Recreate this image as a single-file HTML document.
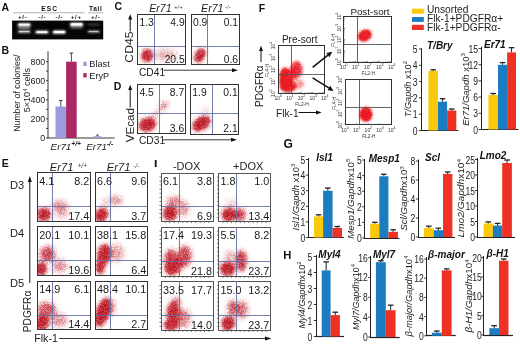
<!DOCTYPE html><html><head><meta charset="utf-8"><style>html,body{margin:0;padding:0;background:#fff;width:520px;height:345px;overflow:hidden}svg{display:block;will-change:transform}text{font-family:"Liberation Sans", sans-serif}</style></head><body><svg width="520" height="345" viewBox="0 0 520 345"><text x="1.6" y="10.6" font-size="10.5" text-anchor="start" font-weight="bold" font-style="normal" fill="#111" >A</text><text x="49.6" y="10.5" font-size="6.6" text-anchor="middle" font-weight="bold" font-style="normal" fill="#111" letter-spacing="1.1">ESC</text><text x="95.7" y="10.5" font-size="6.6" text-anchor="middle" font-weight="bold" font-style="normal" fill="#111" letter-spacing="0.6">Tail</text><line x1="13" y1="12.8" x2="84.5" y2="12.8" stroke="#aaa" stroke-width="0.9" /><line x1="88" y1="12.8" x2="103" y2="12.8" stroke="#aaa" stroke-width="0.9" /><text x="22.8" y="19.2" font-size="6.2" text-anchor="middle" font-weight="bold" font-style="normal" fill="#111" letter-spacing="0.7">+/-</text><text x="42.4" y="19.2" font-size="6.2" text-anchor="middle" font-weight="bold" font-style="normal" fill="#111" letter-spacing="0.7">-/-</text><text x="59.4" y="19.2" font-size="6.2" text-anchor="middle" font-weight="bold" font-style="normal" fill="#111" letter-spacing="0.7">-/-</text><text x="76.3" y="19.2" font-size="6.2" text-anchor="middle" font-weight="bold" font-style="normal" fill="#111" letter-spacing="0.7">+/+</text><text x="95.8" y="19.2" font-size="6.2" text-anchor="middle" font-weight="bold" font-style="normal" fill="#111" letter-spacing="0.7">+/-</text><rect x="12.1" y="20.6" width="91.1" height="18.8" fill="#050505" /><defs><filter id="gb" x="-30%" y="-150%" width="160%" height="400%"><feGaussianBlur stdDeviation="0.9 0.8"/></filter><filter id="grain" x="0" y="0" width="520" height="345" filterUnits="userSpaceOnUse"><feGaussianBlur in="SourceGraphic" stdDeviation="2.8" result="b"/><feTurbulence type="fractalNoise" baseFrequency="1.6" numOctaves="1" seed="5" result="n"/><feColorMatrix in="n" type="matrix" values="0 0 0 0 0  0 0 0 0 0  0 0 0 0 0  6 0 0 0 -2.2" result="m"/><feComposite in="b" in2="m" operator="in" result="g"/><feComponentTransfer in="b" result="core"><feFuncA type="table" tableValues="0 0.03 0.25 0.55 0.72 0.8"/></feComponentTransfer><feMerge><feMergeNode in="g"/><feMergeNode in="core"/></feMerge></filter><filter id="grainF" x="0" y="0" width="520" height="345" filterUnits="userSpaceOnUse"><feGaussianBlur in="SourceGraphic" stdDeviation="1.5" result="b"/><feTurbulence type="fractalNoise" baseFrequency="1.4" numOctaves="1" seed="9" result="n"/><feColorMatrix in="n" type="matrix" values="0 0 0 0 0  0 0 0 0 0  0 0 0 0 0  4 0 0 0 -1.1" result="m"/><feComposite in="b" in2="m" operator="in" result="g"/><feComponentTransfer in="b" result="core"><feFuncA type="table" tableValues="0 0.02 0.2 0.55 0.8 0.88"/></feComponentTransfer><feMerge><feMergeNode in="g"/><feMergeNode in="core"/></feMerge></filter></defs><rect x="17.6" y="23.2" width="13.2" height="3.0" rx="1.5" fill="#fff" opacity="1.0" filter="url(#gb)"/><rect x="18.8" y="23.7" width="10.799999999999999" height="1.8" rx="0.6" fill="#fff" opacity="0.90"/><rect x="17.95" y="26.0" width="12.5" height="3.2" rx="1.5" fill="#fff" opacity="0.45" filter="url(#gb)"/><rect x="17.7" y="30.7" width="13" height="2.0" rx="1.5" fill="#fff" opacity="0.95" filter="url(#gb)"/><rect x="18.9" y="31.2" width="10.6" height="0.8" rx="0.6" fill="#fff" opacity="0.85"/><rect x="35.3" y="30.800000000000004" width="13.2" height="2.8" rx="1.5" fill="#fff" opacity="1.0" filter="url(#gb)"/><rect x="36.5" y="31.300000000000004" width="10.799999999999999" height="1.5999999999999999" rx="0.6" fill="#fff" opacity="0.90"/><rect x="52.6" y="30.400000000000002" width="13.2" height="3.4" rx="1.5" fill="#fff" opacity="1.0" filter="url(#gb)"/><rect x="53.800000000000004" y="30.900000000000002" width="10.799999999999999" height="2.2" rx="0.6" fill="#fff" opacity="0.90"/><rect x="69.89999999999999" y="22.7" width="13.4" height="3.6" rx="1.5" fill="#fff" opacity="1.0" filter="url(#gb)"/><rect x="71.1" y="23.2" width="11.0" height="2.4000000000000004" rx="0.6" fill="#fff" opacity="0.90"/><rect x="70.35" y="26.099999999999998" width="12.5" height="2.6" rx="1.5" fill="#fff" opacity="0.35" filter="url(#gb)"/><rect x="87.45" y="24.0" width="12.5" height="1.0" rx="1.5" fill="#fff" opacity="0.45" filter="url(#gb)"/><rect x="87.45" y="30.8" width="12.5" height="1.8" rx="1.5" fill="#fff" opacity="0.85" filter="url(#gb)"/><rect x="88.65" y="31.3" width="10.1" height="0.6000000000000001" rx="0.6" fill="#fff" opacity="0.77"/><text x="1.6" y="54.4" font-size="10.5" text-anchor="start" font-weight="bold" font-style="normal" fill="#111" >B</text><line x1="48" y1="51.3" x2="48" y2="138.0" stroke="#222" stroke-width="0.9" /><line x1="47.6" y1="138.0" x2="114.7" y2="138.0" stroke="#222" stroke-width="0.9" /><line x1="46" y1="138.0" x2="48" y2="138.0" stroke="#222" stroke-width="0.8" /><text x="45.3" y="141.3" font-size="8.9" text-anchor="end" font-weight="normal" font-style="normal" fill="#222" >0</text><line x1="46" y1="128.45" x2="48" y2="128.45" stroke="#222" stroke-width="0.8" /><line x1="46" y1="118.9" x2="48" y2="118.9" stroke="#222" stroke-width="0.8" /><text x="45.3" y="122.2" font-size="8.9" text-anchor="end" font-weight="normal" font-style="normal" fill="#222" >200</text><line x1="46" y1="109.35" x2="48" y2="109.35" stroke="#222" stroke-width="0.8" /><line x1="46" y1="99.8" x2="48" y2="99.8" stroke="#222" stroke-width="0.8" /><text x="45.3" y="103.1" font-size="8.9" text-anchor="end" font-weight="normal" font-style="normal" fill="#222" >400</text><line x1="46" y1="90.25" x2="48" y2="90.25" stroke="#222" stroke-width="0.8" /><line x1="46" y1="80.69999999999999" x2="48" y2="80.69999999999999" stroke="#222" stroke-width="0.8" /><text x="45.3" y="83.99999999999999" font-size="8.9" text-anchor="end" font-weight="normal" font-style="normal" fill="#222" >600</text><line x1="46" y1="71.15" x2="48" y2="71.15" stroke="#222" stroke-width="0.8" /><line x1="46" y1="61.599999999999994" x2="48" y2="61.599999999999994" stroke="#222" stroke-width="0.8" /><text x="45.3" y="64.89999999999999" font-size="8.9" text-anchor="end" font-weight="normal" font-style="normal" fill="#222" >800</text><rect x="55.5" y="106.485" width="10.599999999999994" height="31.515" fill="#9c9cdc" /><line x1="60.8" y1="106.485" x2="60.8" y2="100.564" stroke="#222" stroke-width="0.8" /><line x1="59.0" y1="100.564" x2="62.599999999999994" y2="100.564" stroke="#222" stroke-width="0.9" /><rect x="66.1" y="61.695499999999996" width="10.600000000000009" height="76.3045" fill="#aa2864" /><line x1="71.4" y1="61.695499999999996" x2="71.4" y2="53.1005" stroke="#222" stroke-width="0.8" /><line x1="69.60000000000001" y1="53.1005" x2="73.2" y2="53.1005" stroke="#222" stroke-width="0.9" /><rect x="93.5" y="136.3" width="8" height="1.7" fill="#9c9cdc" /><line x1="97.5" y1="136.3" x2="97.5" y2="135" stroke="#222" stroke-width="0.7" /><line x1="96" y1="135" x2="99" y2="135" stroke="#222" stroke-width="0.7" /><rect x="83.3" y="61.7" width="3.4" height="4.3" fill="#9c9cdc" /><text x="89.3" y="67.2" font-size="9.2" text-anchor="start" font-weight="normal" font-style="normal" fill="#222" >Blast</text><rect x="83.3" y="73.1" width="3.4" height="4.3" fill="#aa2864" /><text x="89.3" y="78.5" font-size="9.2" text-anchor="start" font-weight="normal" font-style="normal" fill="#222" >EryP</text><text x="50.6" y="150" font-size="9.8" text-anchor="start" font-weight="normal" font-style="italic" fill="#222" >Er71<tspan font-size="6.6" dy="-4" font-weight="bold">+/+</tspan></text><text x="86.2" y="150" font-size="9.8" text-anchor="start" font-weight="normal" font-style="italic" fill="#222" >Er71<tspan font-size="6.6" dy="-4" font-weight="bold">-/-</tspan></text><text transform="translate(20.0,93.1) rotate(-90)" font-size="8.7" text-anchor="middle" font-weight="normal" font-style="normal" fill="#222">Number of colonies/</text><text transform="translate(30.2,90.1) rotate(-90)" font-size="9.1" text-anchor="middle" font-weight="normal" font-style="normal" fill="#222">5&#215;10<tspan font-size="5.8" dy="-3.6">4</tspan><tspan dy="3.6"> cells</tspan></text><text x="114.5" y="10" font-size="10.5" text-anchor="start" font-weight="bold" font-style="normal" fill="#111" >C</text><text x="149.2" y="12.3" font-size="10.6" text-anchor="start" font-weight="normal" font-style="italic" fill="#222" >Er71</text><text x="174" y="9.4" font-size="6.2" text-anchor="start" font-weight="normal" font-style="italic" fill="#444" >+/+</text><text x="201.1" y="12.3" font-size="10.6" text-anchor="start" font-weight="normal" font-style="italic" fill="#222" >Er71</text><text x="225" y="9.4" font-size="6.2" text-anchor="start" font-weight="normal" font-style="italic" fill="#444" >-/-</text><clipPath id="c1"><rect x="137.6" y="14.1" width="48.30000000000001" height="50.49999999999999"/></clipPath><g clip-path="url(#c1)"><g filter="url(#grain)"><ellipse cx="147" cy="55.5" rx="5.5" ry="6.5" transform="rotate(0 147 55.5)" fill="#bc1422" opacity="1.00"/><ellipse cx="166" cy="55" rx="12.0" ry="6.5" transform="rotate(0 166 55)" fill="#bc1422" opacity="0.28"/></g></g><line x1="154.5" y1="14.1" x2="154.5" y2="64.6" stroke="#6470a8" stroke-width="0.9" /><line x1="137.6" y1="46.5" x2="185.9" y2="46.5" stroke="#6470a8" stroke-width="0.9" /><rect x="137.5" y="14.5" width="48.0" height="50.0" fill="none" stroke="#333" stroke-width="1"/><text x="139.5" y="26.2" font-size="10.3" text-anchor="start" font-weight="normal" font-style="normal" fill="#1a1a1a" >1.3</text><text x="184.70000000000002" y="26.2" font-size="10.3" text-anchor="end" font-weight="normal" font-style="normal" fill="#1a1a1a" >4.9</text><text x="184.70000000000002" y="62.89999999999999" font-size="10.3" text-anchor="end" font-weight="normal" font-style="normal" fill="#1a1a1a" >20.5</text><clipPath id="c2"><rect x="191.1" y="14.1" width="48.20000000000002" height="50.49999999999999"/></clipPath><g clip-path="url(#c2)"><g filter="url(#grain)"><ellipse cx="200" cy="55.5" rx="4.5" ry="7.5" transform="rotate(30 200 55.5)" fill="#bc1422" opacity="1.00"/></g></g><line x1="207.5" y1="14.1" x2="207.5" y2="64.6" stroke="#6470a8" stroke-width="0.9" /><line x1="191.1" y1="46.5" x2="239.3" y2="46.5" stroke="#6470a8" stroke-width="0.9" /><rect x="191.5" y="14.5" width="48.0" height="50.0" fill="none" stroke="#333" stroke-width="1"/><text x="193.0" y="26.2" font-size="10.3" text-anchor="start" font-weight="normal" font-style="normal" fill="#1a1a1a" >0.9</text><text x="238.10000000000002" y="26.2" font-size="10.3" text-anchor="end" font-weight="normal" font-style="normal" fill="#1a1a1a" >0.1</text><text x="238.10000000000002" y="62.89999999999999" font-size="10.3" text-anchor="end" font-weight="normal" font-style="normal" fill="#1a1a1a" >0.6</text><text transform="translate(133.1,47.05) rotate(-90) scale(1.2,1)" font-size="10.2" text-anchor="middle" fill="#222">CD45</text><line x1="130.2" y1="31.5" x2="130.2" y2="18" stroke="#111" stroke-width="1.0" /><path d="M128.2,19.5 L130.2,14.2 L132.2,19.5 Z" fill="#111"/><text x="139" y="76" font-size="10.2" text-anchor="start" font-weight="normal" font-style="normal" fill="#222" >CD41</text><line x1="163.5" y1="70.2" x2="234" y2="70.2" stroke="#222" stroke-width="0.9" /><path d="M232,68.2 L238,70.2 L232,72.2 Z" fill="#111"/><text x="113.7" y="89.6" font-size="10.5" text-anchor="start" font-weight="bold" font-style="normal" fill="#111" >D</text><clipPath id="c3"><rect x="137.6" y="84.1" width="47.80000000000001" height="49.599999999999994"/></clipPath><g clip-path="url(#c3)"><g filter="url(#grain)"><ellipse cx="147.5" cy="124.5" rx="8.5" ry="6.5" transform="rotate(-20 147.5 124.5)" fill="#bc1422" opacity="1.00"/><ellipse cx="156" cy="113.5" rx="5.0" ry="2.0" transform="rotate(-45 156 113.5)" fill="#bc1422" opacity="0.44"/><ellipse cx="163.5" cy="105.5" rx="5.0" ry="3.3" transform="rotate(-40 163.5 105.5)" fill="#bc1422" opacity="0.56"/></g></g><line x1="159.5" y1="84.1" x2="159.5" y2="133.7" stroke="#6470a8" stroke-width="0.9" /><line x1="137.6" y1="113.5" x2="185.4" y2="113.5" stroke="#6470a8" stroke-width="0.9" /><rect x="137.5" y="84.5" width="48.0" height="49.0" fill="none" stroke="#333" stroke-width="1"/><text x="139.5" y="96.19999999999999" font-size="10.3" text-anchor="start" font-weight="normal" font-style="normal" fill="#1a1a1a" >4.5</text><text x="184.20000000000002" y="96.19999999999999" font-size="10.3" text-anchor="end" font-weight="normal" font-style="normal" fill="#1a1a1a" >8.7</text><text x="184.20000000000002" y="132.0" font-size="10.3" text-anchor="end" font-weight="normal" font-style="normal" fill="#1a1a1a" >3.6</text><clipPath id="c4"><rect x="190.4" y="84.1" width="48.5" height="50.0"/></clipPath><g clip-path="url(#c4)"><g filter="url(#grain)"><ellipse cx="201.5" cy="123.5" rx="10.0" ry="6.0" transform="rotate(-35 201.5 123.5)" fill="#bc1422" opacity="1.00"/><ellipse cx="205" cy="110" rx="4.0" ry="3.0" transform="rotate(0 205 110)" fill="#bc1422" opacity="0.19"/></g></g><line x1="212.5" y1="84.1" x2="212.5" y2="134.1" stroke="#6470a8" stroke-width="0.9" /><line x1="190.4" y1="113.5" x2="238.9" y2="113.5" stroke="#6470a8" stroke-width="0.9" /><rect x="190.5" y="84.5" width="48.0" height="50.0" fill="none" stroke="#333" stroke-width="1"/><text x="192.3" y="96.19999999999999" font-size="10.3" text-anchor="start" font-weight="normal" font-style="normal" fill="#1a1a1a" >1.9</text><text x="237.70000000000002" y="96.19999999999999" font-size="10.3" text-anchor="end" font-weight="normal" font-style="normal" fill="#1a1a1a" >0.1</text><text x="237.70000000000002" y="132.4" font-size="10.3" text-anchor="end" font-weight="normal" font-style="normal" fill="#1a1a1a" >2.1</text><text transform="translate(133.6,125.15) rotate(-90) scale(1.14,1)" font-size="10.2" text-anchor="middle" fill="#222">VEcad</text><line x1="130.2" y1="107.5" x2="130.2" y2="88" stroke="#111" stroke-width="1.0" /><path d="M128.2,90 L130.2,84.8 L132.2,90 Z" fill="#111"/><text x="139" y="144.4" font-size="10.2" text-anchor="start" font-weight="normal" font-style="normal" fill="#222" >CD31</text><line x1="162.5" y1="139.8" x2="233" y2="139.8" stroke="#222" stroke-width="0.9" /><path d="M231,137.8 L237,139.8 L231,141.8 Z" fill="#111"/><text x="1.8" y="167.3" font-size="10.5" text-anchor="start" font-weight="bold" font-style="normal" fill="#111" >E</text><text x="49.8" y="171" font-size="11.2" text-anchor="start" font-weight="normal" font-style="italic" fill="#222" >Er71</text><text x="77.5" y="167.6" font-size="6.6" text-anchor="start" font-weight="normal" font-style="italic" fill="#444" >+/+</text><text x="106.8" y="171" font-size="11.2" text-anchor="start" font-weight="normal" font-style="italic" fill="#222" >Er71</text><text x="133.3" y="167.6" font-size="6.6" text-anchor="start" font-weight="normal" font-style="italic" fill="#444" >-/-</text><clipPath id="c5"><rect x="37.3" y="172.7" width="53.10000000000001" height="48.60000000000002"/></clipPath><g clip-path="url(#c5)"><g filter="url(#grain)"><ellipse cx="44" cy="214.5" rx="6.5" ry="6.5" transform="rotate(0 44 214.5)" fill="#bc1422" opacity="1.00"/><ellipse cx="60" cy="206" rx="9.0" ry="6.0" transform="rotate(0 60 206)" fill="#bc1422" opacity="0.38"/><ellipse cx="62" cy="214" rx="7.0" ry="5.0" transform="rotate(0 62 214)" fill="#bc1422" opacity="0.25"/></g></g><line x1="52.5" y1="172.7" x2="52.5" y2="221.3" stroke="#6470a8" stroke-width="0.9" /><line x1="37.3" y1="206.5" x2="90.4" y2="206.5" stroke="#6470a8" stroke-width="0.9" /><rect x="37.5" y="172.5" width="53.0" height="49.0" fill="none" stroke="#333" stroke-width="1"/><text x="39.199999999999996" y="184.79999999999998" font-size="10.8" text-anchor="start" font-weight="normal" font-style="normal" fill="#1a1a1a" >4.1</text><text x="89.2" y="184.79999999999998" font-size="10.8" text-anchor="end" font-weight="normal" font-style="normal" fill="#1a1a1a" >8.2</text><text x="89.2" y="219.60000000000002" font-size="10.8" text-anchor="end" font-weight="normal" font-style="normal" fill="#1a1a1a" >17.4</text><clipPath id="c6"><rect x="95.2" y="172.7" width="52.2" height="48.60000000000002"/></clipPath><g clip-path="url(#c6)"><g filter="url(#grain)"><ellipse cx="101.5" cy="215" rx="6.0" ry="7.0" transform="rotate(40 101.5 215)" fill="#bc1422" opacity="1.00"/><ellipse cx="115.8" cy="200.4" rx="6.5" ry="5.0" transform="rotate(0 115.8 200.4)" fill="#bc1422" opacity="0.40"/><ellipse cx="105" cy="203" rx="3.5" ry="4.0" transform="rotate(0 105 203)" fill="#bc1422" opacity="0.31"/></g></g><line x1="110.5" y1="172.7" x2="110.5" y2="221.3" stroke="#6470a8" stroke-width="0.9" /><line x1="95.2" y1="206.5" x2="147.4" y2="206.5" stroke="#6470a8" stroke-width="0.9" /><rect x="95.5" y="172.5" width="52.0" height="49.0" fill="none" stroke="#333" stroke-width="1"/><text x="97.10000000000001" y="184.79999999999998" font-size="10.8" text-anchor="start" font-weight="normal" font-style="normal" fill="#1a1a1a" >6.6</text><text x="146.20000000000002" y="184.79999999999998" font-size="10.8" text-anchor="end" font-weight="normal" font-style="normal" fill="#1a1a1a" >9.6</text><text x="146.20000000000002" y="219.60000000000002" font-size="10.8" text-anchor="end" font-weight="normal" font-style="normal" fill="#1a1a1a" >3.7</text><clipPath id="c7"><rect x="37.3" y="226.4" width="53.10000000000001" height="49.29999999999998"/></clipPath><g clip-path="url(#c7)"><g filter="url(#grain)"><ellipse cx="47.5" cy="254" rx="8.0" ry="8.0" transform="rotate(0 47.5 254)" fill="#bc1422" opacity="0.62"/><ellipse cx="41" cy="269" rx="5.5" ry="6.5" transform="rotate(0 41 269)" fill="#bc1422" opacity="1.00"/><ellipse cx="60" cy="266" rx="8.0" ry="7.0" transform="rotate(0 60 266)" fill="#bc1422" opacity="0.38"/></g></g><line x1="52.5" y1="226.4" x2="52.5" y2="275.7" stroke="#6470a8" stroke-width="0.9" /><line x1="37.3" y1="260.5" x2="90.4" y2="260.5" stroke="#6470a8" stroke-width="0.9" /><rect x="37.5" y="226.5" width="53.0" height="49.0" fill="none" stroke="#333" stroke-width="1"/><text x="39.199999999999996" y="238.5" font-size="10.8" text-anchor="start" font-weight="normal" font-style="normal" fill="#1a1a1a" >20.1</text><text x="89.2" y="238.5" font-size="10.8" text-anchor="end" font-weight="normal" font-style="normal" fill="#1a1a1a" >10.1</text><text x="89.2" y="274.0" font-size="10.8" text-anchor="end" font-weight="normal" font-style="normal" fill="#1a1a1a" >19.6</text><clipPath id="c8"><rect x="95.2" y="226.4" width="52.2" height="49.29999999999998"/></clipPath><g clip-path="url(#c8)"><g filter="url(#grain)"><ellipse cx="104" cy="255" rx="6.5" ry="11.0" transform="rotate(10 104 255)" fill="#bc1422" opacity="0.94"/><ellipse cx="100" cy="268" rx="4.0" ry="6.0" transform="rotate(0 100 268)" fill="#bc1422" opacity="1.00"/><ellipse cx="117" cy="252.6" rx="7.0" ry="9.0" transform="rotate(0 117 252.6)" fill="#bc1422" opacity="0.35"/></g></g><line x1="110.5" y1="226.4" x2="110.5" y2="275.7" stroke="#6470a8" stroke-width="0.9" /><line x1="95.2" y1="260.5" x2="147.4" y2="260.5" stroke="#6470a8" stroke-width="0.9" /><rect x="95.5" y="226.5" width="52.0" height="49.0" fill="none" stroke="#333" stroke-width="1"/><text x="97.10000000000001" y="238.5" font-size="10.8" text-anchor="start" font-weight="normal" font-style="normal" fill="#1a1a1a" >38.1</text><text x="146.20000000000002" y="238.5" font-size="10.8" text-anchor="end" font-weight="normal" font-style="normal" fill="#1a1a1a" >15.8</text><text x="146.20000000000002" y="274.0" font-size="10.8" text-anchor="end" font-weight="normal" font-style="normal" fill="#1a1a1a" >6.4</text><clipPath id="c9"><rect x="37.3" y="281" width="53.10000000000001" height="48.80000000000001"/></clipPath><g clip-path="url(#c9)"><g filter="url(#grain)"><ellipse cx="46.7" cy="309.7" rx="10.0" ry="8.0" transform="rotate(0 46.7 309.7)" fill="#bc1422" opacity="0.56"/><ellipse cx="42" cy="322.7" rx="6.5" ry="7.0" transform="rotate(0 42 322.7)" fill="#bc1422" opacity="1.00"/><ellipse cx="59" cy="320.4" rx="9.0" ry="7.0" transform="rotate(0 59 320.4)" fill="#bc1422" opacity="0.38"/></g></g><line x1="52.5" y1="281" x2="52.5" y2="329.8" stroke="#6470a8" stroke-width="0.9" /><line x1="37.3" y1="315.5" x2="90.4" y2="315.5" stroke="#6470a8" stroke-width="0.9" /><rect x="37.5" y="281.5" width="53.0" height="48.0" fill="none" stroke="#333" stroke-width="1"/><text x="39.199999999999996" y="293.1" font-size="10.8" text-anchor="start" font-weight="normal" font-style="normal" fill="#1a1a1a" >14.9</text><text x="89.2" y="293.1" font-size="10.8" text-anchor="end" font-weight="normal" font-style="normal" fill="#1a1a1a" >6.1</text><text x="89.2" y="328.1" font-size="10.8" text-anchor="end" font-weight="normal" font-style="normal" fill="#1a1a1a" >14.4</text><clipPath id="c10"><rect x="95.2" y="281" width="52.2" height="48.80000000000001"/></clipPath><g clip-path="url(#c10)"><g filter="url(#grain)"><ellipse cx="103" cy="312" rx="6.5" ry="15.0" transform="rotate(20 103 312)" fill="#bc1422" opacity="1.00"/><ellipse cx="112" cy="308" rx="4.0" ry="8.0" transform="rotate(0 112 308)" fill="#bc1422" opacity="0.31"/></g></g><line x1="110.5" y1="281" x2="110.5" y2="329.8" stroke="#6470a8" stroke-width="0.9" /><line x1="95.2" y1="315.5" x2="147.4" y2="315.5" stroke="#6470a8" stroke-width="0.9" /><rect x="95.5" y="281.5" width="52.0" height="48.0" fill="none" stroke="#333" stroke-width="1"/><text x="97.10000000000001" y="293.1" font-size="10.8" text-anchor="start" font-weight="normal" font-style="normal" fill="#1a1a1a" >48.4</text><text x="146.20000000000002" y="293.1" font-size="10.8" text-anchor="end" font-weight="normal" font-style="normal" fill="#1a1a1a" >10.1</text><text x="146.20000000000002" y="328.1" font-size="10.8" text-anchor="end" font-weight="normal" font-style="normal" fill="#1a1a1a" >2.7</text><text x="9.9" y="189.4" font-size="11.1" text-anchor="start" font-weight="normal" font-style="normal" fill="#222" >D3</text><text x="9.9" y="236.6" font-size="11.1" text-anchor="start" font-weight="normal" font-style="normal" fill="#222" >D4</text><text x="9.9" y="287.4" font-size="11.1" text-anchor="start" font-weight="normal" font-style="normal" fill="#222" >D5</text><line x1="29.8" y1="283" x2="29.8" y2="181" stroke="#111" stroke-width="1.0" /><path d="M27.8,182 L29.8,176 L31.8,182 Z" fill="#111"/><text transform="translate(31.3,311.5) rotate(-90)" font-size="10.2" text-anchor="middle" font-weight="normal" font-style="normal" fill="#222">PDGFR&#945;</text><text x="34.2" y="341.7" font-size="10.7" text-anchor="start" font-weight="normal" font-style="normal" fill="#222" >Flk-1</text><line x1="59" y1="338.5" x2="266" y2="338.5" stroke="#222" stroke-width="0.9" /><path d="M265,336.5 L271.4,338.5 L265,340.5 Z" fill="#111"/><rect x="154.8" y="160" width="1.8" height="7" fill="#111" /><text x="186.7" y="170.4" font-size="11" text-anchor="middle" font-weight="normal" font-style="normal" fill="#222" >-DOX</text><text x="248.2" y="170.4" font-size="11" text-anchor="middle" font-weight="normal" font-style="normal" fill="#222" >+DOX</text><clipPath id="c11"><rect x="161" y="173" width="52.30000000000001" height="48.69999999999999"/></clipPath><g clip-path="url(#c11)"><g filter="url(#grain)"><ellipse cx="170.3" cy="213.2" rx="6.5" ry="7.5" transform="rotate(0 170.3 213.2)" fill="#bc1422" opacity="1.00"/><ellipse cx="174" cy="200.9" rx="8.0" ry="5.0" transform="rotate(0 174 200.9)" fill="#bc1422" opacity="0.44"/><ellipse cx="184" cy="209" rx="5.5" ry="8.0" transform="rotate(0 184 209)" fill="#bc1422" opacity="0.38"/></g></g><line x1="179.5" y1="173" x2="179.5" y2="221.7" stroke="#6470a8" stroke-width="0.9" /><line x1="161" y1="206.5" x2="213.3" y2="206.5" stroke="#6470a8" stroke-width="0.9" /><rect x="161.5" y="173.5" width="52.0" height="48.0" fill="none" stroke="#555" stroke-width="1"/><line x1="159.4" y1="177.05833333333334" x2="161" y2="177.05833333333334" stroke="#444" stroke-width="0.7" /><line x1="159.4" y1="181.11666666666667" x2="161" y2="181.11666666666667" stroke="#444" stroke-width="0.7" /><line x1="159.4" y1="185.175" x2="161" y2="185.175" stroke="#444" stroke-width="0.7" /><line x1="159.4" y1="189.23333333333332" x2="161" y2="189.23333333333332" stroke="#444" stroke-width="0.7" /><line x1="159.4" y1="193.29166666666666" x2="161" y2="193.29166666666666" stroke="#444" stroke-width="0.7" /><line x1="159.4" y1="197.35" x2="161" y2="197.35" stroke="#444" stroke-width="0.7" /><line x1="159.4" y1="201.40833333333333" x2="161" y2="201.40833333333333" stroke="#444" stroke-width="0.7" /><line x1="159.4" y1="205.46666666666667" x2="161" y2="205.46666666666667" stroke="#444" stroke-width="0.7" /><line x1="159.4" y1="209.52499999999998" x2="161" y2="209.52499999999998" stroke="#444" stroke-width="0.7" /><line x1="159.4" y1="213.58333333333331" x2="161" y2="213.58333333333331" stroke="#444" stroke-width="0.7" /><line x1="159.4" y1="217.64166666666665" x2="161" y2="217.64166666666665" stroke="#444" stroke-width="0.7" /><line x1="165.35833333333335" y1="221.7" x2="165.35833333333335" y2="223.1" stroke="#444" stroke-width="0.7" /><line x1="169.71666666666667" y1="221.7" x2="169.71666666666667" y2="223.1" stroke="#444" stroke-width="0.7" /><line x1="174.075" y1="221.7" x2="174.075" y2="223.1" stroke="#444" stroke-width="0.7" /><line x1="178.43333333333334" y1="221.7" x2="178.43333333333334" y2="223.1" stroke="#444" stroke-width="0.7" /><line x1="182.79166666666669" y1="221.7" x2="182.79166666666669" y2="223.1" stroke="#444" stroke-width="0.7" /><line x1="187.15" y1="221.7" x2="187.15" y2="223.1" stroke="#444" stroke-width="0.7" /><line x1="191.50833333333333" y1="221.7" x2="191.50833333333333" y2="223.1" stroke="#444" stroke-width="0.7" /><line x1="195.86666666666667" y1="221.7" x2="195.86666666666667" y2="223.1" stroke="#444" stroke-width="0.7" /><line x1="200.22500000000002" y1="221.7" x2="200.22500000000002" y2="223.1" stroke="#444" stroke-width="0.7" /><line x1="204.58333333333334" y1="221.7" x2="204.58333333333334" y2="223.1" stroke="#444" stroke-width="0.7" /><line x1="208.9416666666667" y1="221.7" x2="208.9416666666667" y2="223.1" stroke="#444" stroke-width="0.7" /><text x="162.9" y="185.1" font-size="10.8" text-anchor="start" font-weight="normal" font-style="normal" fill="#1a1a1a" >6.1</text><text x="212.10000000000002" y="185.1" font-size="10.8" text-anchor="end" font-weight="normal" font-style="normal" fill="#1a1a1a" >3.8</text><text x="212.10000000000002" y="220.0" font-size="10.8" text-anchor="end" font-weight="normal" font-style="normal" fill="#1a1a1a" >6.9</text><clipPath id="c12"><rect x="218.6" y="173" width="51.79999999999998" height="48.69999999999999"/></clipPath><g clip-path="url(#c12)"><g filter="url(#grain)"><ellipse cx="229" cy="214.7" rx="7.0" ry="6.5" transform="rotate(0 229 214.7)" fill="#bc1422" opacity="1.00"/><ellipse cx="240.5" cy="214.7" rx="5.0" ry="7.0" transform="rotate(0 240.5 214.7)" fill="#bc1422" opacity="0.69"/><ellipse cx="231.3" cy="203.2" rx="6.0" ry="4.0" transform="rotate(0 231.3 203.2)" fill="#bc1422" opacity="0.22"/></g></g><line x1="236.5" y1="173" x2="236.5" y2="221.7" stroke="#6470a8" stroke-width="0.9" /><line x1="218.6" y1="206.5" x2="270.4" y2="206.5" stroke="#6470a8" stroke-width="0.9" /><rect x="218.5" y="173.5" width="52.0" height="48.0" fill="none" stroke="#555" stroke-width="1"/><line x1="217.0" y1="177.05833333333334" x2="218.6" y2="177.05833333333334" stroke="#444" stroke-width="0.7" /><line x1="217.0" y1="181.11666666666667" x2="218.6" y2="181.11666666666667" stroke="#444" stroke-width="0.7" /><line x1="217.0" y1="185.175" x2="218.6" y2="185.175" stroke="#444" stroke-width="0.7" /><line x1="217.0" y1="189.23333333333332" x2="218.6" y2="189.23333333333332" stroke="#444" stroke-width="0.7" /><line x1="217.0" y1="193.29166666666666" x2="218.6" y2="193.29166666666666" stroke="#444" stroke-width="0.7" /><line x1="217.0" y1="197.35" x2="218.6" y2="197.35" stroke="#444" stroke-width="0.7" /><line x1="217.0" y1="201.40833333333333" x2="218.6" y2="201.40833333333333" stroke="#444" stroke-width="0.7" /><line x1="217.0" y1="205.46666666666667" x2="218.6" y2="205.46666666666667" stroke="#444" stroke-width="0.7" /><line x1="217.0" y1="209.52499999999998" x2="218.6" y2="209.52499999999998" stroke="#444" stroke-width="0.7" /><line x1="217.0" y1="213.58333333333331" x2="218.6" y2="213.58333333333331" stroke="#444" stroke-width="0.7" /><line x1="217.0" y1="217.64166666666665" x2="218.6" y2="217.64166666666665" stroke="#444" stroke-width="0.7" /><line x1="222.91666666666666" y1="221.7" x2="222.91666666666666" y2="223.1" stroke="#444" stroke-width="0.7" /><line x1="227.23333333333332" y1="221.7" x2="227.23333333333332" y2="223.1" stroke="#444" stroke-width="0.7" /><line x1="231.54999999999998" y1="221.7" x2="231.54999999999998" y2="223.1" stroke="#444" stroke-width="0.7" /><line x1="235.86666666666665" y1="221.7" x2="235.86666666666665" y2="223.1" stroke="#444" stroke-width="0.7" /><line x1="240.1833333333333" y1="221.7" x2="240.1833333333333" y2="223.1" stroke="#444" stroke-width="0.7" /><line x1="244.5" y1="221.7" x2="244.5" y2="223.1" stroke="#444" stroke-width="0.7" /><line x1="248.81666666666666" y1="221.7" x2="248.81666666666666" y2="223.1" stroke="#444" stroke-width="0.7" /><line x1="253.13333333333333" y1="221.7" x2="253.13333333333333" y2="223.1" stroke="#444" stroke-width="0.7" /><line x1="257.45" y1="221.7" x2="257.45" y2="223.1" stroke="#444" stroke-width="0.7" /><line x1="261.76666666666665" y1="221.7" x2="261.76666666666665" y2="223.1" stroke="#444" stroke-width="0.7" /><line x1="266.0833333333333" y1="221.7" x2="266.0833333333333" y2="223.1" stroke="#444" stroke-width="0.7" /><text x="220.5" y="185.1" font-size="10.8" text-anchor="start" font-weight="normal" font-style="normal" fill="#1a1a1a" >1.8</text><text x="269.2" y="185.1" font-size="10.8" text-anchor="end" font-weight="normal" font-style="normal" fill="#1a1a1a" >1.0</text><text x="269.2" y="220.0" font-size="10.8" text-anchor="end" font-weight="normal" font-style="normal" fill="#1a1a1a" >13.4</text><clipPath id="c13"><rect x="161" y="227" width="52.30000000000001" height="49.5"/></clipPath><g clip-path="url(#c13)"><g filter="url(#grain)"><ellipse cx="171" cy="260" rx="7.0" ry="11.0" transform="rotate(0 171 260)" fill="#bc1422" opacity="0.69"/><ellipse cx="184.8" cy="256" rx="7.0" ry="11.0" transform="rotate(0 184.8 256)" fill="#bc1422" opacity="0.62"/><ellipse cx="172" cy="269" rx="7.0" ry="6.0" transform="rotate(0 172 269)" fill="#bc1422" opacity="0.94"/><ellipse cx="178" cy="265" rx="5.0" ry="7.0" transform="rotate(0 178 265)" fill="#bc1422" opacity="0.62"/></g></g><line x1="179.5" y1="227" x2="179.5" y2="276.5" stroke="#6470a8" stroke-width="0.9" /><line x1="161" y1="261.5" x2="213.3" y2="261.5" stroke="#6470a8" stroke-width="0.9" /><rect x="161.5" y="227.5" width="52.0" height="49.0" fill="none" stroke="#555" stroke-width="1"/><line x1="159.4" y1="231.125" x2="161" y2="231.125" stroke="#444" stroke-width="0.7" /><line x1="159.4" y1="235.25" x2="161" y2="235.25" stroke="#444" stroke-width="0.7" /><line x1="159.4" y1="239.375" x2="161" y2="239.375" stroke="#444" stroke-width="0.7" /><line x1="159.4" y1="243.5" x2="161" y2="243.5" stroke="#444" stroke-width="0.7" /><line x1="159.4" y1="247.625" x2="161" y2="247.625" stroke="#444" stroke-width="0.7" /><line x1="159.4" y1="251.75" x2="161" y2="251.75" stroke="#444" stroke-width="0.7" /><line x1="159.4" y1="255.875" x2="161" y2="255.875" stroke="#444" stroke-width="0.7" /><line x1="159.4" y1="260.0" x2="161" y2="260.0" stroke="#444" stroke-width="0.7" /><line x1="159.4" y1="264.125" x2="161" y2="264.125" stroke="#444" stroke-width="0.7" /><line x1="159.4" y1="268.25" x2="161" y2="268.25" stroke="#444" stroke-width="0.7" /><line x1="159.4" y1="272.375" x2="161" y2="272.375" stroke="#444" stroke-width="0.7" /><line x1="165.35833333333335" y1="276.5" x2="165.35833333333335" y2="277.9" stroke="#444" stroke-width="0.7" /><line x1="169.71666666666667" y1="276.5" x2="169.71666666666667" y2="277.9" stroke="#444" stroke-width="0.7" /><line x1="174.075" y1="276.5" x2="174.075" y2="277.9" stroke="#444" stroke-width="0.7" /><line x1="178.43333333333334" y1="276.5" x2="178.43333333333334" y2="277.9" stroke="#444" stroke-width="0.7" /><line x1="182.79166666666669" y1="276.5" x2="182.79166666666669" y2="277.9" stroke="#444" stroke-width="0.7" /><line x1="187.15" y1="276.5" x2="187.15" y2="277.9" stroke="#444" stroke-width="0.7" /><line x1="191.50833333333333" y1="276.5" x2="191.50833333333333" y2="277.9" stroke="#444" stroke-width="0.7" /><line x1="195.86666666666667" y1="276.5" x2="195.86666666666667" y2="277.9" stroke="#444" stroke-width="0.7" /><line x1="200.22500000000002" y1="276.5" x2="200.22500000000002" y2="277.9" stroke="#444" stroke-width="0.7" /><line x1="204.58333333333334" y1="276.5" x2="204.58333333333334" y2="277.9" stroke="#444" stroke-width="0.7" /><line x1="208.9416666666667" y1="276.5" x2="208.9416666666667" y2="277.9" stroke="#444" stroke-width="0.7" /><text x="162.9" y="239.1" font-size="10.8" text-anchor="start" font-weight="normal" font-style="normal" fill="#1a1a1a" >17.4</text><text x="212.10000000000002" y="239.1" font-size="10.8" text-anchor="end" font-weight="normal" font-style="normal" fill="#1a1a1a" >19.3</text><text x="212.10000000000002" y="274.8" font-size="10.8" text-anchor="end" font-weight="normal" font-style="normal" fill="#1a1a1a" >21.8</text><clipPath id="c14"><rect x="218.6" y="227" width="51.79999999999998" height="49.5"/></clipPath><g clip-path="url(#c14)"><g filter="url(#grain)"><ellipse cx="227.5" cy="268.7" rx="7.0" ry="7.0" transform="rotate(0 227.5 268.7)" fill="#bc1422" opacity="1.00"/><ellipse cx="241.3" cy="261" rx="5.5" ry="11.0" transform="rotate(0 241.3 261)" fill="#bc1422" opacity="0.75"/><ellipse cx="229.8" cy="255.7" rx="6.0" ry="5.0" transform="rotate(0 229.8 255.7)" fill="#bc1422" opacity="0.31"/></g></g><line x1="236.5" y1="227" x2="236.5" y2="276.5" stroke="#6470a8" stroke-width="0.9" /><line x1="218.6" y1="261.5" x2="270.4" y2="261.5" stroke="#6470a8" stroke-width="0.9" /><rect x="218.5" y="227.5" width="52.0" height="49.0" fill="none" stroke="#555" stroke-width="1"/><line x1="217.0" y1="231.125" x2="218.6" y2="231.125" stroke="#444" stroke-width="0.7" /><line x1="217.0" y1="235.25" x2="218.6" y2="235.25" stroke="#444" stroke-width="0.7" /><line x1="217.0" y1="239.375" x2="218.6" y2="239.375" stroke="#444" stroke-width="0.7" /><line x1="217.0" y1="243.5" x2="218.6" y2="243.5" stroke="#444" stroke-width="0.7" /><line x1="217.0" y1="247.625" x2="218.6" y2="247.625" stroke="#444" stroke-width="0.7" /><line x1="217.0" y1="251.75" x2="218.6" y2="251.75" stroke="#444" stroke-width="0.7" /><line x1="217.0" y1="255.875" x2="218.6" y2="255.875" stroke="#444" stroke-width="0.7" /><line x1="217.0" y1="260.0" x2="218.6" y2="260.0" stroke="#444" stroke-width="0.7" /><line x1="217.0" y1="264.125" x2="218.6" y2="264.125" stroke="#444" stroke-width="0.7" /><line x1="217.0" y1="268.25" x2="218.6" y2="268.25" stroke="#444" stroke-width="0.7" /><line x1="217.0" y1="272.375" x2="218.6" y2="272.375" stroke="#444" stroke-width="0.7" /><line x1="222.91666666666666" y1="276.5" x2="222.91666666666666" y2="277.9" stroke="#444" stroke-width="0.7" /><line x1="227.23333333333332" y1="276.5" x2="227.23333333333332" y2="277.9" stroke="#444" stroke-width="0.7" /><line x1="231.54999999999998" y1="276.5" x2="231.54999999999998" y2="277.9" stroke="#444" stroke-width="0.7" /><line x1="235.86666666666665" y1="276.5" x2="235.86666666666665" y2="277.9" stroke="#444" stroke-width="0.7" /><line x1="240.1833333333333" y1="276.5" x2="240.1833333333333" y2="277.9" stroke="#444" stroke-width="0.7" /><line x1="244.5" y1="276.5" x2="244.5" y2="277.9" stroke="#444" stroke-width="0.7" /><line x1="248.81666666666666" y1="276.5" x2="248.81666666666666" y2="277.9" stroke="#444" stroke-width="0.7" /><line x1="253.13333333333333" y1="276.5" x2="253.13333333333333" y2="277.9" stroke="#444" stroke-width="0.7" /><line x1="257.45" y1="276.5" x2="257.45" y2="277.9" stroke="#444" stroke-width="0.7" /><line x1="261.76666666666665" y1="276.5" x2="261.76666666666665" y2="277.9" stroke="#444" stroke-width="0.7" /><line x1="266.0833333333333" y1="276.5" x2="266.0833333333333" y2="277.9" stroke="#444" stroke-width="0.7" /><text x="220.5" y="239.1" font-size="10.8" text-anchor="start" font-weight="normal" font-style="normal" fill="#1a1a1a" >5.5</text><text x="269.2" y="239.1" font-size="10.8" text-anchor="end" font-weight="normal" font-style="normal" fill="#1a1a1a" >8.2</text><text x="269.2" y="274.8" font-size="10.8" text-anchor="end" font-weight="normal" font-style="normal" fill="#1a1a1a" >23.7</text><clipPath id="c15"><rect x="161" y="281.5" width="52.30000000000001" height="49.0"/></clipPath><g clip-path="url(#c15)"><g filter="url(#grain)"><ellipse cx="176" cy="302" rx="5.0" ry="4.0" transform="rotate(0 176 302)" fill="#bc1422" opacity="0.62"/><ellipse cx="173" cy="313" rx="6.0" ry="10.0" transform="rotate(0 173 313)" fill="#bc1422" opacity="0.94"/><ellipse cx="171" cy="325" rx="7.0" ry="5.0" transform="rotate(0 171 325)" fill="#bc1422" opacity="1.00"/><ellipse cx="184" cy="318" rx="7.0" ry="10.0" transform="rotate(0 184 318)" fill="#bc1422" opacity="0.44"/></g></g><line x1="179.5" y1="281.5" x2="179.5" y2="330.5" stroke="#6470a8" stroke-width="0.9" /><line x1="161" y1="315.5" x2="213.3" y2="315.5" stroke="#6470a8" stroke-width="0.9" /><rect x="161.5" y="281.5" width="52.0" height="49.0" fill="none" stroke="#555" stroke-width="1"/><line x1="159.4" y1="285.5833333333333" x2="161" y2="285.5833333333333" stroke="#444" stroke-width="0.7" /><line x1="159.4" y1="289.6666666666667" x2="161" y2="289.6666666666667" stroke="#444" stroke-width="0.7" /><line x1="159.4" y1="293.75" x2="161" y2="293.75" stroke="#444" stroke-width="0.7" /><line x1="159.4" y1="297.8333333333333" x2="161" y2="297.8333333333333" stroke="#444" stroke-width="0.7" /><line x1="159.4" y1="301.9166666666667" x2="161" y2="301.9166666666667" stroke="#444" stroke-width="0.7" /><line x1="159.4" y1="306.0" x2="161" y2="306.0" stroke="#444" stroke-width="0.7" /><line x1="159.4" y1="310.0833333333333" x2="161" y2="310.0833333333333" stroke="#444" stroke-width="0.7" /><line x1="159.4" y1="314.1666666666667" x2="161" y2="314.1666666666667" stroke="#444" stroke-width="0.7" /><line x1="159.4" y1="318.25" x2="161" y2="318.25" stroke="#444" stroke-width="0.7" /><line x1="159.4" y1="322.3333333333333" x2="161" y2="322.3333333333333" stroke="#444" stroke-width="0.7" /><line x1="159.4" y1="326.4166666666667" x2="161" y2="326.4166666666667" stroke="#444" stroke-width="0.7" /><line x1="165.35833333333335" y1="330.5" x2="165.35833333333335" y2="331.9" stroke="#444" stroke-width="0.7" /><line x1="169.71666666666667" y1="330.5" x2="169.71666666666667" y2="331.9" stroke="#444" stroke-width="0.7" /><line x1="174.075" y1="330.5" x2="174.075" y2="331.9" stroke="#444" stroke-width="0.7" /><line x1="178.43333333333334" y1="330.5" x2="178.43333333333334" y2="331.9" stroke="#444" stroke-width="0.7" /><line x1="182.79166666666669" y1="330.5" x2="182.79166666666669" y2="331.9" stroke="#444" stroke-width="0.7" /><line x1="187.15" y1="330.5" x2="187.15" y2="331.9" stroke="#444" stroke-width="0.7" /><line x1="191.50833333333333" y1="330.5" x2="191.50833333333333" y2="331.9" stroke="#444" stroke-width="0.7" /><line x1="195.86666666666667" y1="330.5" x2="195.86666666666667" y2="331.9" stroke="#444" stroke-width="0.7" /><line x1="200.22500000000002" y1="330.5" x2="200.22500000000002" y2="331.9" stroke="#444" stroke-width="0.7" /><line x1="204.58333333333334" y1="330.5" x2="204.58333333333334" y2="331.9" stroke="#444" stroke-width="0.7" /><line x1="208.9416666666667" y1="330.5" x2="208.9416666666667" y2="331.9" stroke="#444" stroke-width="0.7" /><text x="162.9" y="293.6" font-size="10.8" text-anchor="start" font-weight="normal" font-style="normal" fill="#1a1a1a" >33.5</text><text x="212.10000000000002" y="293.6" font-size="10.8" text-anchor="end" font-weight="normal" font-style="normal" fill="#1a1a1a" >17.7</text><text x="212.10000000000002" y="328.8" font-size="10.8" text-anchor="end" font-weight="normal" font-style="normal" fill="#1a1a1a" >14.0</text><clipPath id="c16"><rect x="218.6" y="281.5" width="51.79999999999998" height="49.0"/></clipPath><g clip-path="url(#c16)"><g filter="url(#grain)"><ellipse cx="228.3" cy="323.5" rx="6.5" ry="7.0" transform="rotate(0 228.3 323.5)" fill="#bc1422" opacity="1.00"/><ellipse cx="232.9" cy="308" rx="5.5" ry="8.0" transform="rotate(0 232.9 308)" fill="#bc1422" opacity="0.56"/><ellipse cx="242" cy="309.7" rx="6.0" ry="9.0" transform="rotate(0 242 309.7)" fill="#bc1422" opacity="0.50"/></g></g><line x1="236.5" y1="281.5" x2="236.5" y2="330.5" stroke="#6470a8" stroke-width="0.9" /><line x1="218.6" y1="315.5" x2="270.4" y2="315.5" stroke="#6470a8" stroke-width="0.9" /><rect x="218.5" y="281.5" width="52.0" height="49.0" fill="none" stroke="#555" stroke-width="1"/><line x1="217.0" y1="285.5833333333333" x2="218.6" y2="285.5833333333333" stroke="#444" stroke-width="0.7" /><line x1="217.0" y1="289.6666666666667" x2="218.6" y2="289.6666666666667" stroke="#444" stroke-width="0.7" /><line x1="217.0" y1="293.75" x2="218.6" y2="293.75" stroke="#444" stroke-width="0.7" /><line x1="217.0" y1="297.8333333333333" x2="218.6" y2="297.8333333333333" stroke="#444" stroke-width="0.7" /><line x1="217.0" y1="301.9166666666667" x2="218.6" y2="301.9166666666667" stroke="#444" stroke-width="0.7" /><line x1="217.0" y1="306.0" x2="218.6" y2="306.0" stroke="#444" stroke-width="0.7" /><line x1="217.0" y1="310.0833333333333" x2="218.6" y2="310.0833333333333" stroke="#444" stroke-width="0.7" /><line x1="217.0" y1="314.1666666666667" x2="218.6" y2="314.1666666666667" stroke="#444" stroke-width="0.7" /><line x1="217.0" y1="318.25" x2="218.6" y2="318.25" stroke="#444" stroke-width="0.7" /><line x1="217.0" y1="322.3333333333333" x2="218.6" y2="322.3333333333333" stroke="#444" stroke-width="0.7" /><line x1="217.0" y1="326.4166666666667" x2="218.6" y2="326.4166666666667" stroke="#444" stroke-width="0.7" /><line x1="222.91666666666666" y1="330.5" x2="222.91666666666666" y2="331.9" stroke="#444" stroke-width="0.7" /><line x1="227.23333333333332" y1="330.5" x2="227.23333333333332" y2="331.9" stroke="#444" stroke-width="0.7" /><line x1="231.54999999999998" y1="330.5" x2="231.54999999999998" y2="331.9" stroke="#444" stroke-width="0.7" /><line x1="235.86666666666665" y1="330.5" x2="235.86666666666665" y2="331.9" stroke="#444" stroke-width="0.7" /><line x1="240.1833333333333" y1="330.5" x2="240.1833333333333" y2="331.9" stroke="#444" stroke-width="0.7" /><line x1="244.5" y1="330.5" x2="244.5" y2="331.9" stroke="#444" stroke-width="0.7" /><line x1="248.81666666666666" y1="330.5" x2="248.81666666666666" y2="331.9" stroke="#444" stroke-width="0.7" /><line x1="253.13333333333333" y1="330.5" x2="253.13333333333333" y2="331.9" stroke="#444" stroke-width="0.7" /><line x1="257.45" y1="330.5" x2="257.45" y2="331.9" stroke="#444" stroke-width="0.7" /><line x1="261.76666666666665" y1="330.5" x2="261.76666666666665" y2="331.9" stroke="#444" stroke-width="0.7" /><line x1="266.0833333333333" y1="330.5" x2="266.0833333333333" y2="331.9" stroke="#444" stroke-width="0.7" /><text x="220.5" y="293.6" font-size="10.8" text-anchor="start" font-weight="normal" font-style="normal" fill="#1a1a1a" >15.0</text><text x="269.2" y="293.6" font-size="10.8" text-anchor="end" font-weight="normal" font-style="normal" fill="#1a1a1a" >13.2</text><text x="269.2" y="328.8" font-size="10.8" text-anchor="end" font-weight="normal" font-style="normal" fill="#1a1a1a" >23.7</text><text x="258.8" y="12.3" font-size="10.5" text-anchor="start" font-weight="bold" font-style="normal" fill="#111" >F</text><text x="281.9" y="42.9" font-size="10.0" text-anchor="start" font-weight="normal" font-style="normal" fill="#222" >Pre-sort</text><text x="350.4" y="15.4" font-size="9.8" text-anchor="start" font-weight="normal" font-style="normal" fill="#222" >Post-sort</text><clipPath id="c17"><rect x="278.2" y="45.6" width="46.5" height="47.6"/></clipPath><g clip-path="url(#c17)"><g filter="url(#grainF)"><ellipse cx="285" cy="79" rx="5.5" ry="11.5" transform="rotate(0 285 79)" fill="#e8141e" opacity="0.98"/><ellipse cx="296.5" cy="69.5" rx="6.3" ry="8.5" transform="rotate(0 296.5 69.5)" fill="#e8141e" opacity="0.69"/><ellipse cx="288" cy="87" rx="8.0" ry="5.0" transform="rotate(0 288 87)" fill="#e8141e" opacity="0.88"/><ellipse cx="299" cy="84" rx="5.5" ry="5.0" transform="rotate(0 299 84)" fill="#e8141e" opacity="0.38"/><ellipse cx="291" cy="76" rx="5.0" ry="7.0" transform="rotate(0 291 76)" fill="#e8141e" opacity="0.56"/></g></g><line x1="291.5" y1="45.6" x2="291.5" y2="93.2" stroke="#555" stroke-width="0.9" /><line x1="278.2" y1="74.5" x2="324.7" y2="74.5" stroke="#555" stroke-width="0.9" /><rect x="278.5" y="45.5" width="46.0" height="48.0" fill="none" stroke="#333" stroke-width="1"/><line x1="278.2" y1="93.2" x2="278.2" y2="91.60000000000001" stroke="#444" stroke-width="0.4" /><line x1="278.2" y1="93.2" x2="279.8" y2="93.2" stroke="#444" stroke-width="0.4" /><line x1="281.6994736995938" y1="93.2" x2="281.6994736995938" y2="92.3" stroke="#444" stroke-width="0.4" /><line x1="278.2" y1="89.61774305159862" x2="279.09999999999997" y2="89.61774305159862" stroke="#444" stroke-width="0.4" /><line x1="283.74653458611607" y1="93.2" x2="283.74653458611607" y2="92.3" stroke="#444" stroke-width="0.4" /><line x1="278.2" y1="87.52225706883601" x2="279.09999999999997" y2="87.52225706883601" stroke="#444" stroke-width="0.4" /><line x1="285.19894739918755" y1="93.2" x2="285.19894739918755" y2="92.3" stroke="#444" stroke-width="0.4" /><line x1="278.2" y1="86.03548610319726" x2="279.09999999999997" y2="86.03548610319726" stroke="#444" stroke-width="0.4" /><line x1="286.3255263004062" y1="93.2" x2="286.3255263004062" y2="92.3" stroke="#444" stroke-width="0.4" /><line x1="278.2" y1="84.88225694840138" x2="279.09999999999997" y2="84.88225694840138" stroke="#444" stroke-width="0.4" /><line x1="287.2460082857098" y1="93.2" x2="287.2460082857098" y2="92.3" stroke="#444" stroke-width="0.4" /><line x1="278.2" y1="83.94000012043465" x2="279.09999999999997" y2="83.94000012043465" stroke="#444" stroke-width="0.4" /><line x1="288.0242647151657" y1="93.2" x2="288.0242647151657" y2="92.3" stroke="#444" stroke-width="0.4" /><line x1="278.2" y1="83.14333332383035" x2="279.09999999999997" y2="83.14333332383035" stroke="#444" stroke-width="0.4" /><line x1="288.69842109878135" y1="93.2" x2="288.69842109878135" y2="92.3" stroke="#444" stroke-width="0.4" /><line x1="278.2" y1="82.45322915479588" x2="279.09999999999997" y2="82.45322915479588" stroke="#444" stroke-width="0.4" /><line x1="289.29306917223215" y1="93.2" x2="289.29306917223215" y2="92.3" stroke="#444" stroke-width="0.4" /><line x1="278.2" y1="81.84451413767204" x2="279.09999999999997" y2="81.84451413767204" stroke="#444" stroke-width="0.4" /><line x1="289.825" y1="93.2" x2="289.825" y2="91.60000000000001" stroke="#444" stroke-width="0.4" /><line x1="278.2" y1="81.3" x2="279.8" y2="81.3" stroke="#444" stroke-width="0.4" /><line x1="293.3244736995938" y1="93.2" x2="293.3244736995938" y2="92.3" stroke="#444" stroke-width="0.4" /><line x1="278.2" y1="77.71774305159862" x2="279.09999999999997" y2="77.71774305159862" stroke="#444" stroke-width="0.4" /><line x1="295.37153458611607" y1="93.2" x2="295.37153458611607" y2="92.3" stroke="#444" stroke-width="0.4" /><line x1="278.2" y1="75.622257068836" x2="279.09999999999997" y2="75.622257068836" stroke="#444" stroke-width="0.4" /><line x1="296.82394739918755" y1="93.2" x2="296.82394739918755" y2="92.3" stroke="#444" stroke-width="0.4" /><line x1="278.2" y1="74.13548610319725" x2="279.09999999999997" y2="74.13548610319725" stroke="#444" stroke-width="0.4" /><line x1="297.9505263004062" y1="93.2" x2="297.9505263004062" y2="92.3" stroke="#444" stroke-width="0.4" /><line x1="278.2" y1="72.98225694840137" x2="279.09999999999997" y2="72.98225694840137" stroke="#444" stroke-width="0.4" /><line x1="298.8710082857098" y1="93.2" x2="298.8710082857098" y2="92.3" stroke="#444" stroke-width="0.4" /><line x1="278.2" y1="72.04000012043464" x2="279.09999999999997" y2="72.04000012043464" stroke="#444" stroke-width="0.4" /><line x1="299.6492647151657" y1="93.2" x2="299.6492647151657" y2="92.3" stroke="#444" stroke-width="0.4" /><line x1="278.2" y1="71.24333332383034" x2="279.09999999999997" y2="71.24333332383034" stroke="#444" stroke-width="0.4" /><line x1="300.32342109878135" y1="93.2" x2="300.32342109878135" y2="92.3" stroke="#444" stroke-width="0.4" /><line x1="278.2" y1="70.55322915479587" x2="279.09999999999997" y2="70.55322915479587" stroke="#444" stroke-width="0.4" /><line x1="300.91806917223215" y1="93.2" x2="300.91806917223215" y2="92.3" stroke="#444" stroke-width="0.4" /><line x1="278.2" y1="69.94451413767203" x2="279.09999999999997" y2="69.94451413767203" stroke="#444" stroke-width="0.4" /><line x1="301.45" y1="93.2" x2="301.45" y2="91.60000000000001" stroke="#444" stroke-width="0.4" /><line x1="278.2" y1="69.4" x2="279.8" y2="69.4" stroke="#444" stroke-width="0.4" /><line x1="304.9494736995938" y1="93.2" x2="304.9494736995938" y2="92.3" stroke="#444" stroke-width="0.4" /><line x1="278.2" y1="65.81774305159863" x2="279.09999999999997" y2="65.81774305159863" stroke="#444" stroke-width="0.4" /><line x1="306.99653458611607" y1="93.2" x2="306.99653458611607" y2="92.3" stroke="#444" stroke-width="0.4" /><line x1="278.2" y1="63.72225706883602" x2="279.09999999999997" y2="63.72225706883602" stroke="#444" stroke-width="0.4" /><line x1="308.44894739918755" y1="93.2" x2="308.44894739918755" y2="92.3" stroke="#444" stroke-width="0.4" /><line x1="278.2" y1="62.23548610319725" x2="279.09999999999997" y2="62.23548610319725" stroke="#444" stroke-width="0.4" /><line x1="309.5755263004062" y1="93.2" x2="309.5755263004062" y2="92.3" stroke="#444" stroke-width="0.4" /><line x1="278.2" y1="61.08225694840138" x2="279.09999999999997" y2="61.08225694840138" stroke="#444" stroke-width="0.4" /><line x1="310.4960082857098" y1="93.2" x2="310.4960082857098" y2="92.3" stroke="#444" stroke-width="0.4" /><line x1="278.2" y1="60.14000012043465" x2="279.09999999999997" y2="60.14000012043465" stroke="#444" stroke-width="0.4" /><line x1="311.2742647151657" y1="93.2" x2="311.2742647151657" y2="92.3" stroke="#444" stroke-width="0.4" /><line x1="278.2" y1="59.34333332383035" x2="279.09999999999997" y2="59.34333332383035" stroke="#444" stroke-width="0.4" /><line x1="311.94842109878135" y1="93.2" x2="311.94842109878135" y2="92.3" stroke="#444" stroke-width="0.4" /><line x1="278.2" y1="58.65322915479588" x2="279.09999999999997" y2="58.65322915479588" stroke="#444" stroke-width="0.4" /><line x1="312.54306917223215" y1="93.2" x2="312.54306917223215" y2="92.3" stroke="#444" stroke-width="0.4" /><line x1="278.2" y1="58.04451413767204" x2="279.09999999999997" y2="58.04451413767204" stroke="#444" stroke-width="0.4" /><line x1="313.075" y1="93.2" x2="313.075" y2="91.60000000000001" stroke="#444" stroke-width="0.4" /><line x1="278.2" y1="57.5" x2="279.8" y2="57.5" stroke="#444" stroke-width="0.4" /><line x1="316.5744736995938" y1="93.2" x2="316.5744736995938" y2="92.3" stroke="#444" stroke-width="0.4" /><line x1="278.2" y1="53.91774305159862" x2="279.09999999999997" y2="53.91774305159862" stroke="#444" stroke-width="0.4" /><line x1="318.62153458611607" y1="93.2" x2="318.62153458611607" y2="92.3" stroke="#444" stroke-width="0.4" /><line x1="278.2" y1="51.82225706883602" x2="279.09999999999997" y2="51.82225706883602" stroke="#444" stroke-width="0.4" /><line x1="320.07394739918755" y1="93.2" x2="320.07394739918755" y2="92.3" stroke="#444" stroke-width="0.4" /><line x1="278.2" y1="50.33548610319725" x2="279.09999999999997" y2="50.33548610319725" stroke="#444" stroke-width="0.4" /><line x1="321.2005263004062" y1="93.2" x2="321.2005263004062" y2="92.3" stroke="#444" stroke-width="0.4" /><line x1="278.2" y1="49.182256948401374" x2="279.09999999999997" y2="49.182256948401374" stroke="#444" stroke-width="0.4" /><line x1="322.1210082857098" y1="93.2" x2="322.1210082857098" y2="92.3" stroke="#444" stroke-width="0.4" /><line x1="278.2" y1="48.240000120434644" x2="279.09999999999997" y2="48.240000120434644" stroke="#444" stroke-width="0.4" /><line x1="322.8992647151657" y1="93.2" x2="322.8992647151657" y2="92.3" stroke="#444" stroke-width="0.4" /><line x1="278.2" y1="47.443333323830345" x2="279.09999999999997" y2="47.443333323830345" stroke="#444" stroke-width="0.4" /><line x1="323.57342109878135" y1="93.2" x2="323.57342109878135" y2="92.3" stroke="#444" stroke-width="0.4" /><line x1="278.2" y1="46.753229154795875" x2="279.09999999999997" y2="46.753229154795875" stroke="#444" stroke-width="0.4" /><line x1="324.16806917223215" y1="93.2" x2="324.16806917223215" y2="92.3" stroke="#444" stroke-width="0.4" /><line x1="278.2" y1="46.14451413767203" x2="279.09999999999997" y2="46.14451413767203" stroke="#444" stroke-width="0.4" /><text x="277.3" y="100.10000000000001" font-size="5.0" text-anchor="middle" font-weight="normal" font-style="normal" fill="#333" >10</text><text x="280.0" y="97.10000000000001" font-size="3.6" text-anchor="start" font-weight="normal" font-style="normal" fill="#333" >0</text><text transform="translate(275.4,94.10000000000001) rotate(-90)" font-size="5.0" text-anchor="middle" fill="#333">10</text><text transform="translate(272.4,91.4) rotate(-90)" font-size="3.6" fill="#333">0</text><text x="288.925" y="100.10000000000001" font-size="5.0" text-anchor="middle" font-weight="normal" font-style="normal" fill="#333" >10</text><text x="291.625" y="97.10000000000001" font-size="3.6" text-anchor="start" font-weight="normal" font-style="normal" fill="#333" >1</text><text transform="translate(275.4,82.2) rotate(-90)" font-size="5.0" text-anchor="middle" fill="#333">10</text><text transform="translate(272.4,79.5) rotate(-90)" font-size="3.6" fill="#333">1</text><text x="300.55" y="100.10000000000001" font-size="5.0" text-anchor="middle" font-weight="normal" font-style="normal" fill="#333" >10</text><text x="303.25" y="97.10000000000001" font-size="3.6" text-anchor="start" font-weight="normal" font-style="normal" fill="#333" >2</text><text transform="translate(275.4,70.30000000000001) rotate(-90)" font-size="5.0" text-anchor="middle" fill="#333">10</text><text transform="translate(272.4,67.60000000000001) rotate(-90)" font-size="3.6" fill="#333">2</text><text x="312.175" y="100.10000000000001" font-size="5.0" text-anchor="middle" font-weight="normal" font-style="normal" fill="#333" >10</text><text x="314.875" y="97.10000000000001" font-size="3.6" text-anchor="start" font-weight="normal" font-style="normal" fill="#333" >3</text><text transform="translate(275.4,58.4) rotate(-90)" font-size="5.0" text-anchor="middle" fill="#333">10</text><text transform="translate(272.4,55.7) rotate(-90)" font-size="3.6" fill="#333">3</text><text x="323.8" y="100.10000000000001" font-size="5.0" text-anchor="middle" font-weight="normal" font-style="normal" fill="#333" >10</text><text x="326.5" y="97.10000000000001" font-size="3.6" text-anchor="start" font-weight="normal" font-style="normal" fill="#333" >4</text><text transform="translate(275.4,46.5) rotate(-90)" font-size="5.0" text-anchor="middle" fill="#333">10</text><text transform="translate(272.4,43.800000000000004) rotate(-90)" font-size="3.6" fill="#333">4</text><text x="301.95" y="106.0" font-size="4.8" text-anchor="middle" font-weight="normal" font-style="normal" fill="#333" >FL2-H</text><text transform="translate(269.2,70.4) rotate(-90)" font-size="4.8" text-anchor="middle" fill="#333">FL4-H</text><clipPath id="c18"><rect x="343.8" y="16.3" width="47.80000000000001" height="45.8"/></clipPath><g clip-path="url(#c18)"><g filter="url(#grainF)"><ellipse cx="364.8" cy="35.5" rx="7.0" ry="5.6" transform="rotate(-25 364.8 35.5)" fill="#e8141e" opacity="1.00"/></g></g><line x1="357.5" y1="16.3" x2="357.5" y2="62.1" stroke="#555" stroke-width="0.9" /><line x1="343.8" y1="44.5" x2="391.6" y2="44.5" stroke="#555" stroke-width="0.9" /><rect x="343.5" y="16.5" width="48.0" height="46.0" fill="none" stroke="#333" stroke-width="1"/><line x1="343.8" y1="62.1" x2="343.8" y2="60.5" stroke="#444" stroke-width="0.4" /><line x1="343.8" y1="62.1" x2="345.40000000000003" y2="62.1" stroke="#444" stroke-width="0.4" /><line x1="347.39730844818456" y1="62.1" x2="347.39730844818456" y2="61.2" stroke="#444" stroke-width="0.4" /><line x1="343.8" y1="58.653206549647415" x2="344.7" y2="58.653206549647415" stroke="#444" stroke-width="0.4" /><line x1="349.50159899389996" y1="62.1" x2="349.50159899389996" y2="61.2" stroke="#444" stroke-width="0.4" /><line x1="343.8" y1="56.63696163345987" x2="344.7" y2="56.63696163345987" stroke="#444" stroke-width="0.4" /><line x1="350.99461689636917" y1="62.1" x2="350.99461689636917" y2="61.2" stroke="#444" stroke-width="0.4" /><line x1="343.8" y1="55.206413099294835" x2="344.7" y2="55.206413099294835" stroke="#444" stroke-width="0.4" /><line x1="352.15269155181545" y1="62.1" x2="352.15269155181545" y2="61.2" stroke="#444" stroke-width="0.4" /><line x1="343.8" y1="54.096793450352585" x2="344.7" y2="54.096793450352585" stroke="#444" stroke-width="0.4" /><line x1="353.09890744208457" y1="62.1" x2="353.09890744208457" y2="61.2" stroke="#444" stroke-width="0.4" /><line x1="343.8" y1="53.19016818310728" x2="344.7" y2="53.19016818310728" stroke="#444" stroke-width="0.4" /><line x1="353.89892157817036" y1="62.1" x2="353.89892157817036" y2="61.2" stroke="#444" stroke-width="0.4" /><line x1="343.8" y1="52.42362744183676" x2="344.7" y2="52.42362744183676" stroke="#444" stroke-width="0.4" /><line x1="354.5919253445537" y1="62.1" x2="354.5919253445537" y2="61.2" stroke="#444" stroke-width="0.4" /><line x1="343.8" y1="51.75961964894225" x2="344.7" y2="51.75961964894225" stroke="#444" stroke-width="0.4" /><line x1="355.20319798779997" y1="62.1" x2="355.20319798779997" y2="61.2" stroke="#444" stroke-width="0.4" /><line x1="343.8" y1="51.17392326691973" x2="344.7" y2="51.17392326691973" stroke="#444" stroke-width="0.4" /><line x1="355.75" y1="62.1" x2="355.75" y2="60.5" stroke="#444" stroke-width="0.4" /><line x1="343.8" y1="50.650000000000006" x2="345.40000000000003" y2="50.650000000000006" stroke="#444" stroke-width="0.4" /><line x1="359.34730844818455" y1="62.1" x2="359.34730844818455" y2="61.2" stroke="#444" stroke-width="0.4" /><line x1="343.8" y1="47.20320654964742" x2="344.7" y2="47.20320654964742" stroke="#444" stroke-width="0.4" /><line x1="361.45159899389995" y1="62.1" x2="361.45159899389995" y2="61.2" stroke="#444" stroke-width="0.4" /><line x1="343.8" y1="45.18696163345987" x2="344.7" y2="45.18696163345987" stroke="#444" stroke-width="0.4" /><line x1="362.94461689636915" y1="62.1" x2="362.94461689636915" y2="61.2" stroke="#444" stroke-width="0.4" /><line x1="343.8" y1="43.75641309929484" x2="344.7" y2="43.75641309929484" stroke="#444" stroke-width="0.4" /><line x1="364.10269155181544" y1="62.1" x2="364.10269155181544" y2="61.2" stroke="#444" stroke-width="0.4" /><line x1="343.8" y1="42.64679345035259" x2="344.7" y2="42.64679345035259" stroke="#444" stroke-width="0.4" /><line x1="365.04890744208456" y1="62.1" x2="365.04890744208456" y2="61.2" stroke="#444" stroke-width="0.4" /><line x1="343.8" y1="41.740168183107286" x2="344.7" y2="41.740168183107286" stroke="#444" stroke-width="0.4" /><line x1="365.84892157817035" y1="62.1" x2="365.84892157817035" y2="61.2" stroke="#444" stroke-width="0.4" /><line x1="343.8" y1="40.97362744183677" x2="344.7" y2="40.97362744183677" stroke="#444" stroke-width="0.4" /><line x1="366.5419253445537" y1="62.1" x2="366.5419253445537" y2="61.2" stroke="#444" stroke-width="0.4" /><line x1="343.8" y1="40.30961964894225" x2="344.7" y2="40.30961964894225" stroke="#444" stroke-width="0.4" /><line x1="367.15319798779996" y1="62.1" x2="367.15319798779996" y2="61.2" stroke="#444" stroke-width="0.4" /><line x1="343.8" y1="39.72392326691974" x2="344.7" y2="39.72392326691974" stroke="#444" stroke-width="0.4" /><line x1="367.70000000000005" y1="62.1" x2="367.70000000000005" y2="60.5" stroke="#444" stroke-width="0.4" /><line x1="343.8" y1="39.2" x2="345.40000000000003" y2="39.2" stroke="#444" stroke-width="0.4" /><line x1="371.2973084481846" y1="62.1" x2="371.2973084481846" y2="61.2" stroke="#444" stroke-width="0.4" /><line x1="343.8" y1="35.753206549647416" x2="344.7" y2="35.753206549647416" stroke="#444" stroke-width="0.4" /><line x1="373.4015989939" y1="62.1" x2="373.4015989939" y2="61.2" stroke="#444" stroke-width="0.4" /><line x1="343.8" y1="33.73696163345987" x2="344.7" y2="33.73696163345987" stroke="#444" stroke-width="0.4" /><line x1="374.8946168963692" y1="62.1" x2="374.8946168963692" y2="61.2" stroke="#444" stroke-width="0.4" /><line x1="343.8" y1="32.306413099294836" x2="344.7" y2="32.306413099294836" stroke="#444" stroke-width="0.4" /><line x1="376.0526915518155" y1="62.1" x2="376.0526915518155" y2="61.2" stroke="#444" stroke-width="0.4" /><line x1="343.8" y1="31.196793450352587" x2="344.7" y2="31.196793450352587" stroke="#444" stroke-width="0.4" /><line x1="376.9989074420846" y1="62.1" x2="376.9989074420846" y2="61.2" stroke="#444" stroke-width="0.4" /><line x1="343.8" y1="30.290168183107284" x2="344.7" y2="30.290168183107284" stroke="#444" stroke-width="0.4" /><line x1="377.7989215781704" y1="62.1" x2="377.7989215781704" y2="61.2" stroke="#444" stroke-width="0.4" /><line x1="343.8" y1="29.523627441836762" x2="344.7" y2="29.523627441836762" stroke="#444" stroke-width="0.4" /><line x1="378.49192534455375" y1="62.1" x2="378.49192534455375" y2="61.2" stroke="#444" stroke-width="0.4" /><line x1="343.8" y1="28.85961964894225" x2="344.7" y2="28.85961964894225" stroke="#444" stroke-width="0.4" /><line x1="379.1031979878" y1="62.1" x2="379.1031979878" y2="61.2" stroke="#444" stroke-width="0.4" /><line x1="343.8" y1="28.273923266919734" x2="344.7" y2="28.273923266919734" stroke="#444" stroke-width="0.4" /><line x1="379.65000000000003" y1="62.1" x2="379.65000000000003" y2="60.5" stroke="#444" stroke-width="0.4" /><line x1="343.8" y1="27.750000000000007" x2="345.40000000000003" y2="27.750000000000007" stroke="#444" stroke-width="0.4" /><line x1="383.2473084481846" y1="62.1" x2="383.2473084481846" y2="61.2" stroke="#444" stroke-width="0.4" /><line x1="343.8" y1="24.303206549647424" x2="344.7" y2="24.303206549647424" stroke="#444" stroke-width="0.4" /><line x1="385.3515989939" y1="62.1" x2="385.3515989939" y2="61.2" stroke="#444" stroke-width="0.4" /><line x1="343.8" y1="22.286961633459875" x2="344.7" y2="22.286961633459875" stroke="#444" stroke-width="0.4" /><line x1="386.8446168963692" y1="62.1" x2="386.8446168963692" y2="61.2" stroke="#444" stroke-width="0.4" /><line x1="343.8" y1="20.856413099294837" x2="344.7" y2="20.856413099294837" stroke="#444" stroke-width="0.4" /><line x1="388.0026915518155" y1="62.1" x2="388.0026915518155" y2="61.2" stroke="#444" stroke-width="0.4" /><line x1="343.8" y1="19.74679345035259" x2="344.7" y2="19.74679345035259" stroke="#444" stroke-width="0.4" /><line x1="388.9489074420846" y1="62.1" x2="388.9489074420846" y2="61.2" stroke="#444" stroke-width="0.4" /><line x1="343.8" y1="18.840168183107288" x2="344.7" y2="18.840168183107288" stroke="#444" stroke-width="0.4" /><line x1="389.7489215781704" y1="62.1" x2="389.7489215781704" y2="61.2" stroke="#444" stroke-width="0.4" /><line x1="343.8" y1="18.073627441836766" x2="344.7" y2="18.073627441836766" stroke="#444" stroke-width="0.4" /><line x1="390.44192534455374" y1="62.1" x2="390.44192534455374" y2="61.2" stroke="#444" stroke-width="0.4" /><line x1="343.8" y1="17.409619648942254" x2="344.7" y2="17.409619648942254" stroke="#444" stroke-width="0.4" /><line x1="391.0531979878" y1="62.1" x2="391.0531979878" y2="61.2" stroke="#444" stroke-width="0.4" /><line x1="343.8" y1="16.82392326691974" x2="344.7" y2="16.82392326691974" stroke="#444" stroke-width="0.4" /><text x="342.90000000000003" y="69.0" font-size="5.0" text-anchor="middle" font-weight="normal" font-style="normal" fill="#333" >10</text><text x="345.6" y="66.0" font-size="3.6" text-anchor="start" font-weight="normal" font-style="normal" fill="#333" >0</text><text transform="translate(341.0,63.0) rotate(-90)" font-size="5.0" text-anchor="middle" fill="#333">10</text><text transform="translate(338.0,60.300000000000004) rotate(-90)" font-size="3.6" fill="#333">0</text><text x="354.85" y="69.0" font-size="5.0" text-anchor="middle" font-weight="normal" font-style="normal" fill="#333" >10</text><text x="357.55" y="66.0" font-size="3.6" text-anchor="start" font-weight="normal" font-style="normal" fill="#333" >1</text><text transform="translate(341.0,51.550000000000004) rotate(-90)" font-size="5.0" text-anchor="middle" fill="#333">10</text><text transform="translate(338.0,48.85000000000001) rotate(-90)" font-size="3.6" fill="#333">1</text><text x="366.80000000000007" y="69.0" font-size="5.0" text-anchor="middle" font-weight="normal" font-style="normal" fill="#333" >10</text><text x="369.50000000000006" y="66.0" font-size="3.6" text-anchor="start" font-weight="normal" font-style="normal" fill="#333" >2</text><text transform="translate(341.0,40.1) rotate(-90)" font-size="5.0" text-anchor="middle" fill="#333">10</text><text transform="translate(338.0,37.400000000000006) rotate(-90)" font-size="3.6" fill="#333">2</text><text x="378.75000000000006" y="69.0" font-size="5.0" text-anchor="middle" font-weight="normal" font-style="normal" fill="#333" >10</text><text x="381.45000000000005" y="66.0" font-size="3.6" text-anchor="start" font-weight="normal" font-style="normal" fill="#333" >3</text><text transform="translate(341.0,28.650000000000006) rotate(-90)" font-size="5.0" text-anchor="middle" fill="#333">10</text><text transform="translate(338.0,25.950000000000006) rotate(-90)" font-size="3.6" fill="#333">3</text><text x="390.70000000000005" y="69.0" font-size="5.0" text-anchor="middle" font-weight="normal" font-style="normal" fill="#333" >10</text><text x="393.40000000000003" y="66.0" font-size="3.6" text-anchor="start" font-weight="normal" font-style="normal" fill="#333" >4</text><text transform="translate(341.0,17.200000000000003) rotate(-90)" font-size="5.0" text-anchor="middle" fill="#333">10</text><text transform="translate(338.0,14.500000000000004) rotate(-90)" font-size="3.6" fill="#333">4</text><text x="368.20000000000005" y="74.9" font-size="4.8" text-anchor="middle" font-weight="normal" font-style="normal" fill="#333" >FL2-H</text><text transform="translate(334.8,40.2) rotate(-90)" font-size="4.8" text-anchor="middle" fill="#333">FL4-H</text><clipPath id="c19"><rect x="345" y="79.6" width="46.60000000000002" height="45.2"/></clipPath><g clip-path="url(#c19)"><g filter="url(#grainF)"><ellipse cx="366" cy="114.4" rx="6.3" ry="7.3" transform="rotate(0 366 114.4)" fill="#e8141e" opacity="1.00"/></g></g><line x1="359.5" y1="79.6" x2="359.5" y2="124.8" stroke="#555" stroke-width="0.9" /><line x1="345" y1="107.5" x2="391.6" y2="107.5" stroke="#555" stroke-width="0.9" /><rect x="345.5" y="79.5" width="46.0" height="45.0" fill="none" stroke="#333" stroke-width="1"/><line x1="345.0" y1="124.8" x2="345.0" y2="123.2" stroke="#444" stroke-width="0.4" /><line x1="345" y1="124.8" x2="346.6" y2="124.8" stroke="#444" stroke-width="0.4" /><line x1="348.50699944948536" y1="124.8" x2="348.50699944948536" y2="123.89999999999999" stroke="#444" stroke-width="0.4" /><line x1="345" y1="121.398361048997" x2="345.9" y2="121.398361048997" stroke="#444" stroke-width="0.4" /><line x1="350.55846261748405" y1="124.8" x2="350.55846261748405" y2="123.89999999999999" stroke="#444" stroke-width="0.4" /><line x1="345" y1="119.40852982166781" x2="345.9" y2="119.40852982166781" stroke="#444" stroke-width="0.4" /><line x1="352.0139988989708" y1="124.8" x2="352.0139988989708" y2="123.89999999999999" stroke="#444" stroke-width="0.4" /><line x1="345" y1="117.99672209799402" x2="345.9" y2="117.99672209799402" stroke="#444" stroke-width="0.4" /><line x1="353.1430005505146" y1="124.8" x2="353.1430005505146" y2="123.89999999999999" stroke="#444" stroke-width="0.4" /><line x1="345" y1="116.90163895100298" x2="345.9" y2="116.90163895100298" stroke="#444" stroke-width="0.4" /><line x1="354.0654620669695" y1="124.8" x2="354.0654620669695" y2="123.89999999999999" stroke="#444" stroke-width="0.4" /><line x1="345" y1="116.00689087066482" x2="345.9" y2="116.00689087066482" stroke="#444" stroke-width="0.4" /><line x1="354.8453921661661" y1="124.8" x2="354.8453921661661" y2="123.89999999999999" stroke="#444" stroke-width="0.4" /><line x1="345" y1="115.2503921478389" x2="345.9" y2="115.2503921478389" stroke="#444" stroke-width="0.4" /><line x1="355.52099834845615" y1="124.8" x2="355.52099834845615" y2="123.89999999999999" stroke="#444" stroke-width="0.4" /><line x1="345" y1="114.59508314699103" x2="345.9" y2="114.59508314699103" stroke="#444" stroke-width="0.4" /><line x1="356.11692523496816" y1="124.8" x2="356.11692523496816" y2="123.89999999999999" stroke="#444" stroke-width="0.4" /><line x1="345" y1="114.01705964333563" x2="345.9" y2="114.01705964333563" stroke="#444" stroke-width="0.4" /><line x1="356.65" y1="124.8" x2="356.65" y2="123.2" stroke="#444" stroke-width="0.4" /><line x1="345" y1="113.5" x2="346.6" y2="113.5" stroke="#444" stroke-width="0.4" /><line x1="360.15699944948534" y1="124.8" x2="360.15699944948534" y2="123.89999999999999" stroke="#444" stroke-width="0.4" /><line x1="345" y1="110.098361048997" x2="345.9" y2="110.098361048997" stroke="#444" stroke-width="0.4" /><line x1="362.20846261748403" y1="124.8" x2="362.20846261748403" y2="123.89999999999999" stroke="#444" stroke-width="0.4" /><line x1="345" y1="108.10852982166782" x2="345.9" y2="108.10852982166782" stroke="#444" stroke-width="0.4" /><line x1="363.66399889897076" y1="124.8" x2="363.66399889897076" y2="123.89999999999999" stroke="#444" stroke-width="0.4" /><line x1="345" y1="106.69672209799403" x2="345.9" y2="106.69672209799403" stroke="#444" stroke-width="0.4" /><line x1="364.7930005505146" y1="124.8" x2="364.7930005505146" y2="123.89999999999999" stroke="#444" stroke-width="0.4" /><line x1="345" y1="105.60163895100298" x2="345.9" y2="105.60163895100298" stroke="#444" stroke-width="0.4" /><line x1="365.71546206696945" y1="124.8" x2="365.71546206696945" y2="123.89999999999999" stroke="#444" stroke-width="0.4" /><line x1="345" y1="104.70689087066482" x2="345.9" y2="104.70689087066482" stroke="#444" stroke-width="0.4" /><line x1="366.4953921661661" y1="124.8" x2="366.4953921661661" y2="123.89999999999999" stroke="#444" stroke-width="0.4" /><line x1="345" y1="103.9503921478389" x2="345.9" y2="103.9503921478389" stroke="#444" stroke-width="0.4" /><line x1="367.1709983484561" y1="124.8" x2="367.1709983484561" y2="123.89999999999999" stroke="#444" stroke-width="0.4" /><line x1="345" y1="103.29508314699103" x2="345.9" y2="103.29508314699103" stroke="#444" stroke-width="0.4" /><line x1="367.76692523496814" y1="124.8" x2="367.76692523496814" y2="123.89999999999999" stroke="#444" stroke-width="0.4" /><line x1="345" y1="102.71705964333563" x2="345.9" y2="102.71705964333563" stroke="#444" stroke-width="0.4" /><line x1="368.3" y1="124.8" x2="368.3" y2="123.2" stroke="#444" stroke-width="0.4" /><line x1="345" y1="102.19999999999999" x2="346.6" y2="102.19999999999999" stroke="#444" stroke-width="0.4" /><line x1="371.8069994494854" y1="124.8" x2="371.8069994494854" y2="123.89999999999999" stroke="#444" stroke-width="0.4" /><line x1="345" y1="98.798361048997" x2="345.9" y2="98.798361048997" stroke="#444" stroke-width="0.4" /><line x1="373.85846261748407" y1="124.8" x2="373.85846261748407" y2="123.89999999999999" stroke="#444" stroke-width="0.4" /><line x1="345" y1="96.8085298216678" x2="345.9" y2="96.8085298216678" stroke="#444" stroke-width="0.4" /><line x1="375.3139988989708" y1="124.8" x2="375.3139988989708" y2="123.89999999999999" stroke="#444" stroke-width="0.4" /><line x1="345" y1="95.39672209799402" x2="345.9" y2="95.39672209799402" stroke="#444" stroke-width="0.4" /><line x1="376.4430005505146" y1="124.8" x2="376.4430005505146" y2="123.89999999999999" stroke="#444" stroke-width="0.4" /><line x1="345" y1="94.30163895100297" x2="345.9" y2="94.30163895100297" stroke="#444" stroke-width="0.4" /><line x1="377.3654620669695" y1="124.8" x2="377.3654620669695" y2="123.89999999999999" stroke="#444" stroke-width="0.4" /><line x1="345" y1="93.40689087066481" x2="345.9" y2="93.40689087066481" stroke="#444" stroke-width="0.4" /><line x1="378.1453921661661" y1="124.8" x2="378.1453921661661" y2="123.89999999999999" stroke="#444" stroke-width="0.4" /><line x1="345" y1="92.65039214783889" x2="345.9" y2="92.65039214783889" stroke="#444" stroke-width="0.4" /><line x1="378.82099834845616" y1="124.8" x2="378.82099834845616" y2="123.89999999999999" stroke="#444" stroke-width="0.4" /><line x1="345" y1="91.99508314699102" x2="345.9" y2="91.99508314699102" stroke="#444" stroke-width="0.4" /><line x1="379.4169252349682" y1="124.8" x2="379.4169252349682" y2="123.89999999999999" stroke="#444" stroke-width="0.4" /><line x1="345" y1="91.41705964333562" x2="345.9" y2="91.41705964333562" stroke="#444" stroke-width="0.4" /><line x1="379.95000000000005" y1="124.8" x2="379.95000000000005" y2="123.2" stroke="#444" stroke-width="0.4" /><line x1="345" y1="90.89999999999999" x2="346.6" y2="90.89999999999999" stroke="#444" stroke-width="0.4" /><line x1="383.4569994494854" y1="124.8" x2="383.4569994494854" y2="123.89999999999999" stroke="#444" stroke-width="0.4" /><line x1="345" y1="87.498361048997" x2="345.9" y2="87.498361048997" stroke="#444" stroke-width="0.4" /><line x1="385.5084626174841" y1="124.8" x2="385.5084626174841" y2="123.89999999999999" stroke="#444" stroke-width="0.4" /><line x1="345" y1="85.5085298216678" x2="345.9" y2="85.5085298216678" stroke="#444" stroke-width="0.4" /><line x1="386.96399889897083" y1="124.8" x2="386.96399889897083" y2="123.89999999999999" stroke="#444" stroke-width="0.4" /><line x1="345" y1="84.09672209799402" x2="345.9" y2="84.09672209799402" stroke="#444" stroke-width="0.4" /><line x1="388.09300055051466" y1="124.8" x2="388.09300055051466" y2="123.89999999999999" stroke="#444" stroke-width="0.4" /><line x1="345" y1="83.00163895100297" x2="345.9" y2="83.00163895100297" stroke="#444" stroke-width="0.4" /><line x1="389.0154620669695" y1="124.8" x2="389.0154620669695" y2="123.89999999999999" stroke="#444" stroke-width="0.4" /><line x1="345" y1="82.10689087066481" x2="345.9" y2="82.10689087066481" stroke="#444" stroke-width="0.4" /><line x1="389.79539216616615" y1="124.8" x2="389.79539216616615" y2="123.89999999999999" stroke="#444" stroke-width="0.4" /><line x1="345" y1="81.35039214783889" x2="345.9" y2="81.35039214783889" stroke="#444" stroke-width="0.4" /><line x1="390.4709983484562" y1="124.8" x2="390.4709983484562" y2="123.89999999999999" stroke="#444" stroke-width="0.4" /><line x1="345" y1="80.69508314699102" x2="345.9" y2="80.69508314699102" stroke="#444" stroke-width="0.4" /><line x1="391.0669252349682" y1="124.8" x2="391.0669252349682" y2="123.89999999999999" stroke="#444" stroke-width="0.4" /><line x1="345" y1="80.11705964333562" x2="345.9" y2="80.11705964333562" stroke="#444" stroke-width="0.4" /><text x="344.1" y="131.7" font-size="5.0" text-anchor="middle" font-weight="normal" font-style="normal" fill="#333" >10</text><text x="346.8" y="128.7" font-size="3.6" text-anchor="start" font-weight="normal" font-style="normal" fill="#333" >0</text><text transform="translate(342.2,125.7) rotate(-90)" font-size="5.0" text-anchor="middle" fill="#333">10</text><text transform="translate(339.2,123.0) rotate(-90)" font-size="3.6" fill="#333">0</text><text x="355.75" y="131.7" font-size="5.0" text-anchor="middle" font-weight="normal" font-style="normal" fill="#333" >10</text><text x="358.45" y="128.7" font-size="3.6" text-anchor="start" font-weight="normal" font-style="normal" fill="#333" >1</text><text transform="translate(342.2,114.4) rotate(-90)" font-size="5.0" text-anchor="middle" fill="#333">10</text><text transform="translate(339.2,111.7) rotate(-90)" font-size="3.6" fill="#333">1</text><text x="367.40000000000003" y="131.7" font-size="5.0" text-anchor="middle" font-weight="normal" font-style="normal" fill="#333" >10</text><text x="370.1" y="128.7" font-size="3.6" text-anchor="start" font-weight="normal" font-style="normal" fill="#333" >2</text><text transform="translate(342.2,103.1) rotate(-90)" font-size="5.0" text-anchor="middle" fill="#333">10</text><text transform="translate(339.2,100.39999999999999) rotate(-90)" font-size="3.6" fill="#333">2</text><text x="379.05000000000007" y="131.7" font-size="5.0" text-anchor="middle" font-weight="normal" font-style="normal" fill="#333" >10</text><text x="381.75000000000006" y="128.7" font-size="3.6" text-anchor="start" font-weight="normal" font-style="normal" fill="#333" >3</text><text transform="translate(342.2,91.8) rotate(-90)" font-size="5.0" text-anchor="middle" fill="#333">10</text><text transform="translate(339.2,89.1) rotate(-90)" font-size="3.6" fill="#333">3</text><text x="390.70000000000005" y="131.7" font-size="5.0" text-anchor="middle" font-weight="normal" font-style="normal" fill="#333" >10</text><text x="393.40000000000003" y="128.7" font-size="3.6" text-anchor="start" font-weight="normal" font-style="normal" fill="#333" >4</text><text transform="translate(342.2,80.5) rotate(-90)" font-size="5.0" text-anchor="middle" fill="#333">10</text><text transform="translate(339.2,77.8) rotate(-90)" font-size="3.6" fill="#333">4</text><text x="368.8" y="137.6" font-size="4.8" text-anchor="middle" font-weight="normal" font-style="normal" fill="#333" >FL2-H</text><text transform="translate(336.0,103.19999999999999) rotate(-90)" font-size="4.8" text-anchor="middle" fill="#333">FL4-H</text><text transform="translate(262.7,86.3) rotate(-90)" font-size="10.2" text-anchor="middle" font-weight="normal" font-style="normal" fill="#222">PDGFR&#945;</text><line x1="261" y1="62" x2="261" y2="50" stroke="#111" stroke-width="1.0" /><path d="M259,51 L261,45.7 L263,51 Z" fill="#111"/><text x="276" y="116.8" font-size="10.2" text-anchor="start" font-weight="normal" font-style="normal" fill="#222" >Flk-1</text><line x1="298.5" y1="112.5" x2="317" y2="112.5" stroke="#111" stroke-width="1.0" /><path d="M316,110.5 L321.7,112.5 L316,114.5 Z" fill="#111"/><line x1="312.6" y1="67.4" x2="327.90735908384556" y2="55.13849297875637" stroke="#111" stroke-width="1.5" /><path d="M332.2,51.7 L329.53282849198496,57.16774141184756 L326.28188967570617,53.10924454566518 Z" fill="#111"/><line x1="312.6" y1="77.8" x2="328.83977125085624" y2="87.97899537733095" stroke="#111" stroke-width="1.5" /><path d="M333.5,90.9 L327.45893270195813,90.1820126041989 L330.22060979975436,85.77597815046299 Z" fill="#111"/><rect x="412" y="8.7" width="11.8" height="5" fill="#fcc80a" /><text x="427" y="12.8" font-size="10.2" text-anchor="start" font-weight="normal" font-style="normal" fill="#222" >Unsorted</text><rect x="412" y="17" width="11.8" height="4.9" fill="#1c7cc2" /><text x="427" y="21.7" font-size="10.2" text-anchor="start" font-weight="normal" font-style="normal" fill="#222" >Flk-1+PDGFR&#945;+</text><rect x="412" y="24.8" width="11.8" height="5.2" fill="#ee3124" /><text x="427" y="31.3" font-size="10.2" text-anchor="start" font-weight="normal" font-style="normal" fill="#222" >Flk-1+PDGFR&#945;-</text><line x1="421.5" y1="48.2" x2="421.5" y2="130.5" stroke="#222" stroke-width="1.0" /><line x1="421.0" y1="130.5" x2="458.4" y2="130.5" stroke="#222" stroke-width="1.2" /><line x1="419.0" y1="130.5" x2="421.5" y2="130.5" stroke="#222" stroke-width="0.9" /><text transform="translate(417.50,134.50) scale(1,1.24)" font-size="8.6" text-anchor="end" fill="#222">0</text><line x1="419.0" y1="114.2" x2="421.5" y2="114.2" stroke="#222" stroke-width="0.9" /><text transform="translate(417.50,118.20) scale(1,1.24)" font-size="8.6" text-anchor="end" fill="#222">1</text><line x1="419.0" y1="97.9" x2="421.5" y2="97.9" stroke="#222" stroke-width="0.9" /><text transform="translate(417.50,101.90) scale(1,1.24)" font-size="8.6" text-anchor="end" fill="#222">2</text><line x1="419.0" y1="81.6" x2="421.5" y2="81.6" stroke="#222" stroke-width="0.9" /><text transform="translate(417.50,85.60) scale(1,1.24)" font-size="8.6" text-anchor="end" fill="#222">3</text><line x1="419.0" y1="65.3" x2="421.5" y2="65.3" stroke="#222" stroke-width="0.9" /><text transform="translate(417.50,69.30) scale(1,1.24)" font-size="8.6" text-anchor="end" fill="#222">4</text><line x1="419.0" y1="49.0" x2="421.5" y2="49.0" stroke="#222" stroke-width="0.9" /><text transform="translate(417.50,53.00) scale(1,1.24)" font-size="8.6" text-anchor="end" fill="#222">5</text><rect x="428.4" y="71" width="9.600000000000023" height="59.5" fill="#fcc80a" /><line x1="433.2" y1="71" x2="433.2" y2="69.8" stroke="#222" stroke-width="1.0" /><line x1="430.4" y1="69.8" x2="436.0" y2="69.8" stroke="#222" stroke-width="1.3" /><rect x="438" y="101.7" width="9.100000000000023" height="28.799999999999997" fill="#1c7cc2" /><line x1="442.55" y1="101.7" x2="442.55" y2="98.7" stroke="#222" stroke-width="1.0" /><line x1="439.75" y1="98.7" x2="445.35" y2="98.7" stroke="#222" stroke-width="1.3" /><rect x="447.1" y="110.5" width="9.199999999999989" height="20.0" fill="#ee3124" /><line x1="451.70000000000005" y1="110.5" x2="451.70000000000005" y2="109" stroke="#222" stroke-width="1.0" /><line x1="448.90000000000003" y1="109" x2="454.50000000000006" y2="109" stroke="#222" stroke-width="1.3" /><text x="427" y="48.9" font-size="10" text-anchor="start" font-weight="bold" font-style="italic" fill="#111" >T/Bry</text><text transform="translate(410.98,89.11) rotate(-90) scale(0.952,1)" font-size="9.6" text-anchor="middle" font-style="italic" fill="#222">T/Gapdh<tspan font-style="normal"> x10</tspan><tspan font-style="normal" font-size="6.2" dy="-3.8">2</tspan></text><line x1="481.5" y1="46.6" x2="481.5" y2="129.5" stroke="#222" stroke-width="1.0" /><line x1="481.0" y1="129.5" x2="518.5" y2="129.5" stroke="#222" stroke-width="1.2" /><line x1="478.5" y1="129.5" x2="481" y2="129.5" stroke="#222" stroke-width="0.9" /><text transform="translate(478.00,133.50) scale(1,1.24)" font-size="8.6" text-anchor="end" fill="#222">0</text><line x1="478.5" y1="113.3" x2="481" y2="113.3" stroke="#222" stroke-width="0.9" /><text transform="translate(478.00,117.30) scale(1,1.24)" font-size="8.6" text-anchor="end" fill="#222">3</text><line x1="478.5" y1="97.1" x2="481" y2="97.1" stroke="#222" stroke-width="0.9" /><text transform="translate(478.00,101.10) scale(1,1.24)" font-size="8.6" text-anchor="end" fill="#222">6</text><line x1="478.5" y1="80.9" x2="481" y2="80.9" stroke="#222" stroke-width="0.9" /><text transform="translate(478.00,84.90) scale(1,1.24)" font-size="8.6" text-anchor="end" fill="#222">9</text><line x1="478.5" y1="64.7" x2="481" y2="64.7" stroke="#222" stroke-width="0.9" /><text transform="translate(478.00,68.70) scale(1,1.24)" font-size="8.6" text-anchor="end" fill="#222">12</text><line x1="478.5" y1="48.500000000000014" x2="481" y2="48.500000000000014" stroke="#222" stroke-width="0.9" /><text transform="translate(478.00,52.50) scale(1,1.24)" font-size="8.6" text-anchor="end" fill="#222">15</text><rect x="488.4" y="95" width="9.600000000000023" height="34.5" fill="#fcc80a" /><line x1="493.2" y1="95" x2="493.2" y2="93.5" stroke="#222" stroke-width="1.0" /><line x1="490.4" y1="93.5" x2="496.0" y2="93.5" stroke="#222" stroke-width="1.3" /><rect x="498" y="64.8" width="9.100000000000023" height="64.7" fill="#1c7cc2" /><line x1="502.55" y1="64.8" x2="502.55" y2="62.6" stroke="#222" stroke-width="1.0" /><line x1="499.75" y1="62.6" x2="505.35" y2="62.6" stroke="#222" stroke-width="1.3" /><rect x="507.1" y="52.4" width="8.899999999999977" height="77.1" fill="#ee3124" /><line x1="511.55" y1="52.4" x2="511.55" y2="47.7" stroke="#222" stroke-width="1.0" /><line x1="508.75" y1="47.7" x2="514.35" y2="47.7" stroke="#222" stroke-width="1.3" /><text x="484" y="48" font-size="10" text-anchor="start" font-weight="bold" font-style="italic" fill="#111" >Er71</text><text transform="translate(468.88,89.45) rotate(-90) scale(0.993,1)" font-size="9.6" text-anchor="middle" font-style="italic" fill="#222">Er71/Gapdh<tspan font-style="normal"> x10</tspan><tspan font-style="normal" font-size="6.2" dy="-3.8">3</tspan></text><text x="283.4" y="148.1" font-size="12" text-anchor="start" font-weight="bold" font-style="normal" fill="#111" >G</text><line x1="308.5" y1="158" x2="308.5" y2="237.5" stroke="#222" stroke-width="1.0" /><line x1="308.0" y1="237.5" x2="344" y2="237.5" stroke="#222" stroke-width="1.2" /><line x1="305.8" y1="237.5" x2="308.3" y2="237.5" stroke="#222" stroke-width="0.9" /><text transform="translate(305.30,241.50) scale(1,1.24)" font-size="8.6" text-anchor="end" fill="#222">0</text><line x1="305.8" y1="221.9" x2="308.3" y2="221.9" stroke="#222" stroke-width="0.9" /><text transform="translate(305.30,225.90) scale(1,1.24)" font-size="8.6" text-anchor="end" fill="#222">1</text><line x1="305.8" y1="206.3" x2="308.3" y2="206.3" stroke="#222" stroke-width="0.9" /><text transform="translate(305.30,210.30) scale(1,1.24)" font-size="8.6" text-anchor="end" fill="#222">2</text><line x1="305.8" y1="190.7" x2="308.3" y2="190.7" stroke="#222" stroke-width="0.9" /><text transform="translate(305.30,194.70) scale(1,1.24)" font-size="8.6" text-anchor="end" fill="#222">3</text><line x1="305.8" y1="175.1" x2="308.3" y2="175.1" stroke="#222" stroke-width="0.9" /><text transform="translate(305.30,179.10) scale(1,1.24)" font-size="8.6" text-anchor="end" fill="#222">4</text><line x1="305.8" y1="159.5" x2="308.3" y2="159.5" stroke="#222" stroke-width="0.9" /><text transform="translate(305.30,163.50) scale(1,1.24)" font-size="8.6" text-anchor="end" fill="#222">5</text><rect x="314" y="216.4" width="9.100000000000023" height="21.099999999999994" fill="#fcc80a" /><line x1="318.55" y1="216.4" x2="318.55" y2="214.8" stroke="#222" stroke-width="1.0" /><line x1="315.75" y1="214.8" x2="321.35" y2="214.8" stroke="#222" stroke-width="1.3" /><rect x="323.1" y="190.8" width="9.5" height="46.69999999999999" fill="#1c7cc2" /><line x1="327.85" y1="190.8" x2="327.85" y2="188" stroke="#222" stroke-width="1.0" /><line x1="325.05" y1="188" x2="330.65000000000003" y2="188" stroke="#222" stroke-width="1.3" /><rect x="332.6" y="228" width="9.399999999999977" height="9.5" fill="#ee3124" /><line x1="337.3" y1="228" x2="337.3" y2="226.5" stroke="#222" stroke-width="1.0" /><line x1="334.5" y1="226.5" x2="340.1" y2="226.5" stroke="#222" stroke-width="1.3" /><text x="316.2" y="161" font-size="10" text-anchor="start" font-weight="bold" font-style="italic" fill="#111" >Isl1</text><text transform="translate(298.88,197.10) rotate(-90) scale(0.983,1)" font-size="9.6" text-anchor="middle" font-style="italic" fill="#222">Isl1/Gapdh<tspan font-style="normal"> x10</tspan><tspan font-style="normal" font-size="6.2" dy="-3.8">3</tspan></text><line x1="364.5" y1="159" x2="364.5" y2="238.5" stroke="#222" stroke-width="1.0" /><line x1="364.0" y1="238.5" x2="399.4" y2="238.5" stroke="#222" stroke-width="1.2" /><line x1="362.2" y1="238.0" x2="364.7" y2="238.0" stroke="#222" stroke-width="0.9" /><text transform="translate(361.70,242.00) scale(1,1.24)" font-size="8.6" text-anchor="end" fill="#222">0</text><line x1="362.2" y1="222.4" x2="364.7" y2="222.4" stroke="#222" stroke-width="0.9" /><text transform="translate(361.70,226.40) scale(1,1.24)" font-size="8.6" text-anchor="end" fill="#222">1</text><line x1="362.2" y1="206.8" x2="364.7" y2="206.8" stroke="#222" stroke-width="0.9" /><text transform="translate(361.70,210.80) scale(1,1.24)" font-size="8.6" text-anchor="end" fill="#222">2</text><line x1="362.2" y1="191.2" x2="364.7" y2="191.2" stroke="#222" stroke-width="0.9" /><text transform="translate(361.70,195.20) scale(1,1.24)" font-size="8.6" text-anchor="end" fill="#222">3</text><line x1="362.2" y1="175.6" x2="364.7" y2="175.6" stroke="#222" stroke-width="0.9" /><text transform="translate(361.70,179.60) scale(1,1.24)" font-size="8.6" text-anchor="end" fill="#222">4</text><line x1="362.2" y1="160.0" x2="364.7" y2="160.0" stroke="#222" stroke-width="0.9" /><text transform="translate(361.70,164.00) scale(1,1.24)" font-size="8.6" text-anchor="end" fill="#222">5</text><rect x="370.2" y="223.7" width="9.100000000000023" height="14.300000000000011" fill="#fcc80a" /><line x1="374.75" y1="223.7" x2="374.75" y2="222.3" stroke="#222" stroke-width="1.0" /><line x1="371.95" y1="222.3" x2="377.55" y2="222.3" stroke="#222" stroke-width="1.3" /><rect x="379.3" y="176.3" width="9.099999999999966" height="61.69999999999999" fill="#1c7cc2" /><line x1="383.85" y1="176.3" x2="383.85" y2="174.2" stroke="#222" stroke-width="1.0" /><line x1="381.05" y1="174.2" x2="386.65000000000003" y2="174.2" stroke="#222" stroke-width="1.3" /><rect x="388.4" y="231.9" width="9.5" height="6.099999999999994" fill="#ee3124" /><line x1="393.15" y1="231.9" x2="393.15" y2="229.8" stroke="#222" stroke-width="1.0" /><line x1="390.34999999999997" y1="229.8" x2="395.95" y2="229.8" stroke="#222" stroke-width="1.3" /><text x="368.7" y="161.5" font-size="10" text-anchor="start" font-weight="bold" font-style="italic" fill="#111" >Mesp1</text><text transform="translate(353.58,198.70) rotate(-90) scale(1.015,1)" font-size="9.6" text-anchor="middle" font-style="italic" fill="#222">Mesp1/Gapdh<tspan font-style="normal">x10</tspan><tspan font-style="normal" font-size="6.2" dy="-3.8">5</tspan></text><line x1="418.5" y1="159.5" x2="418.5" y2="237.5" stroke="#222" stroke-width="1.0" /><line x1="418.0" y1="237.5" x2="455" y2="237.5" stroke="#222" stroke-width="1.2" /><line x1="415.8" y1="237.0" x2="418.3" y2="237.0" stroke="#222" stroke-width="0.9" /><text transform="translate(415.30,241.00) scale(1,1.24)" font-size="8.6" text-anchor="end" fill="#222">0</text><line x1="415.8" y1="218.0" x2="418.3" y2="218.0" stroke="#222" stroke-width="0.9" /><text transform="translate(415.30,222.00) scale(1,1.24)" font-size="8.6" text-anchor="end" fill="#222">2</text><line x1="415.8" y1="199.0" x2="418.3" y2="199.0" stroke="#222" stroke-width="0.9" /><text transform="translate(415.30,203.00) scale(1,1.24)" font-size="8.6" text-anchor="end" fill="#222">4</text><line x1="415.8" y1="180.0" x2="418.3" y2="180.0" stroke="#222" stroke-width="0.9" /><text transform="translate(415.30,184.00) scale(1,1.24)" font-size="8.6" text-anchor="end" fill="#222">6</text><line x1="415.8" y1="161.0" x2="418.3" y2="161.0" stroke="#222" stroke-width="0.9" /><text transform="translate(415.30,165.00) scale(1,1.24)" font-size="8.6" text-anchor="end" fill="#222">8</text><rect x="423.9" y="228" width="9.800000000000011" height="9" fill="#fcc80a" /><line x1="428.79999999999995" y1="228" x2="428.79999999999995" y2="226.2" stroke="#222" stroke-width="1.0" /><line x1="425.99999999999994" y1="226.2" x2="431.59999999999997" y2="226.2" stroke="#222" stroke-width="1.3" /><rect x="433.7" y="230.2" width="9.300000000000011" height="6.800000000000011" fill="#1c7cc2" /><line x1="438.35" y1="230.2" x2="438.35" y2="228.2" stroke="#222" stroke-width="1.0" /><line x1="435.55" y1="228.2" x2="441.15000000000003" y2="228.2" stroke="#222" stroke-width="1.3" /><rect x="443" y="174" width="9.399999999999977" height="63" fill="#ee3124" /><line x1="447.7" y1="174" x2="447.7" y2="172" stroke="#222" stroke-width="1.0" /><line x1="444.9" y1="172" x2="450.5" y2="172" stroke="#222" stroke-width="1.3" /><text x="425" y="161" font-size="10" text-anchor="start" font-weight="bold" font-style="italic" fill="#111" >Scl</text><text transform="translate(407.38,198.49) rotate(-90) scale(1.015,1)" font-size="9.6" text-anchor="middle" font-style="italic" fill="#222">Scl/Gapdh<tspan font-style="normal">x10</tspan><tspan font-style="normal" font-size="6.2" dy="-3.8">3</tspan></text><line x1="477.5" y1="158" x2="477.5" y2="237.5" stroke="#222" stroke-width="1.0" /><line x1="477.0" y1="237.5" x2="515" y2="237.5" stroke="#222" stroke-width="1.2" /><line x1="475.0" y1="237.0" x2="477.5" y2="237.0" stroke="#222" stroke-width="0.9" /><text transform="translate(475.10,241.00) scale(1,1.24)" font-size="8.6" text-anchor="end" fill="#222">0</text><line x1="475.0" y1="221.5" x2="477.5" y2="221.5" stroke="#222" stroke-width="0.9" /><text transform="translate(475.10,225.50) scale(1,1.24)" font-size="8.6" text-anchor="end" fill="#222">5</text><line x1="475.0" y1="206.0" x2="477.5" y2="206.0" stroke="#222" stroke-width="0.9" /><text transform="translate(475.10,210.00) scale(1,1.24)" font-size="8.6" text-anchor="end" fill="#222">10</text><line x1="475.0" y1="190.5" x2="477.5" y2="190.5" stroke="#222" stroke-width="0.9" /><text transform="translate(475.10,194.50) scale(1,1.24)" font-size="8.6" text-anchor="end" fill="#222">15</text><line x1="475.0" y1="175.0" x2="477.5" y2="175.0" stroke="#222" stroke-width="0.9" /><text transform="translate(475.10,179.00) scale(1,1.24)" font-size="8.6" text-anchor="end" fill="#222">20</text><line x1="475.0" y1="159.5" x2="477.5" y2="159.5" stroke="#222" stroke-width="0.9" /><text transform="translate(475.10,163.50) scale(1,1.24)" font-size="8.6" text-anchor="end" fill="#222">25</text><rect x="483.6" y="223.4" width="9.299999999999955" height="13.599999999999994" fill="#fcc80a" /><line x1="488.25" y1="223.4" x2="488.25" y2="221.9" stroke="#222" stroke-width="1.0" /><line x1="485.45" y1="221.9" x2="491.05" y2="221.9" stroke="#222" stroke-width="1.3" /><rect x="492.9" y="225.5" width="9.300000000000011" height="11.5" fill="#1c7cc2" /><line x1="497.54999999999995" y1="225.5" x2="497.54999999999995" y2="223.4" stroke="#222" stroke-width="1.0" /><line x1="494.74999999999994" y1="223.4" x2="500.34999999999997" y2="223.4" stroke="#222" stroke-width="1.3" /><rect x="502.2" y="163" width="9.699999999999989" height="74" fill="#ee3124" /><line x1="507.04999999999995" y1="163" x2="507.04999999999995" y2="160" stroke="#222" stroke-width="1.0" /><line x1="504.24999999999994" y1="160" x2="509.84999999999997" y2="160" stroke="#222" stroke-width="1.3" /><text x="479.7" y="159.3" font-size="10" text-anchor="start" font-weight="bold" font-style="italic" fill="#111" >Lmo2</text><text transform="translate(464.48,198.20) rotate(-90) scale(1.058,1)" font-size="9.6" text-anchor="middle" font-style="italic" fill="#222">Lmo2/Gapdh<tspan font-style="normal">x10</tspan><tspan font-style="normal" font-size="6.2" dy="-3.8">4</tspan></text><text x="283.3" y="258.9" font-size="11.2" text-anchor="start" font-weight="bold" font-style="normal" fill="#111" >H</text><line x1="316.5" y1="255" x2="316.5" y2="336.5" stroke="#222" stroke-width="1.0" /><line x1="316.0" y1="336.5" x2="344" y2="336.5" stroke="#222" stroke-width="1.2" /><line x1="313.7" y1="336.5" x2="316.2" y2="336.5" stroke="#222" stroke-width="0.9" /><text transform="translate(312.40,340.50) scale(1,1.24)" font-size="8.6" text-anchor="end" fill="#222">0</text><line x1="313.7" y1="320.5" x2="316.2" y2="320.5" stroke="#222" stroke-width="0.9" /><text transform="translate(312.40,324.50) scale(1,1.24)" font-size="8.6" text-anchor="end" fill="#222">1</text><line x1="313.7" y1="304.5" x2="316.2" y2="304.5" stroke="#222" stroke-width="0.9" /><text transform="translate(312.40,308.50) scale(1,1.24)" font-size="8.6" text-anchor="end" fill="#222">2</text><line x1="313.7" y1="288.5" x2="316.2" y2="288.5" stroke="#222" stroke-width="0.9" /><text transform="translate(312.40,292.50) scale(1,1.24)" font-size="8.6" text-anchor="end" fill="#222">3</text><line x1="313.7" y1="272.5" x2="316.2" y2="272.5" stroke="#222" stroke-width="0.9" /><text transform="translate(312.40,276.50) scale(1,1.24)" font-size="8.6" text-anchor="end" fill="#222">4</text><line x1="313.7" y1="256.5" x2="316.2" y2="256.5" stroke="#222" stroke-width="0.9" /><text transform="translate(312.40,260.50) scale(1,1.24)" font-size="8.6" text-anchor="end" fill="#222">5</text><rect x="321.7" y="270.4" width="8.900000000000034" height="66.10000000000002" fill="#1c7cc2" /><line x1="326.15" y1="270.4" x2="326.15" y2="261.9" stroke="#222" stroke-width="1.0" /><line x1="323.34999999999997" y1="261.9" x2="328.95" y2="261.9" stroke="#222" stroke-width="1.3" /><rect x="330.6" y="315.1" width="9.299999999999955" height="21.399999999999977" fill="#ee3124" /><line x1="335.25" y1="315.1" x2="335.25" y2="312.2" stroke="#222" stroke-width="1.0" /><line x1="332.45" y1="312.2" x2="338.05" y2="312.2" stroke="#222" stroke-width="1.3" /><text x="318.3" y="258.3" font-size="10" text-anchor="start" font-weight="bold" font-style="italic" fill="#111" >Myl4</text><text transform="translate(304.88,295.00) rotate(-90) scale(0.952,1)" font-size="9.6" text-anchor="middle" font-style="italic" fill="#222">Myl4/Gapdh<tspan font-style="normal">x10</tspan><tspan font-style="normal" font-size="6.2" dy="-3.8">2</tspan></text><line x1="370.5" y1="256" x2="370.5" y2="337.5" stroke="#222" stroke-width="1.0" /><line x1="370.0" y1="337.5" x2="399.7" y2="337.5" stroke="#222" stroke-width="1.2" /><line x1="368.2" y1="337.0" x2="370.7" y2="337.0" stroke="#222" stroke-width="0.9" /><text transform="translate(367.70,341.00) scale(1,1.24)" font-size="8.6" text-anchor="end" fill="#222">0</text><line x1="368.2" y1="317.16" x2="370.7" y2="317.16" stroke="#222" stroke-width="0.9" /><text transform="translate(367.70,321.16) scale(1,1.24)" font-size="8.6" text-anchor="end" fill="#222">4</text><line x1="368.2" y1="297.32" x2="370.7" y2="297.32" stroke="#222" stroke-width="0.9" /><text transform="translate(367.70,301.32) scale(1,1.24)" font-size="8.6" text-anchor="end" fill="#222">8</text><line x1="368.2" y1="277.48" x2="370.7" y2="277.48" stroke="#222" stroke-width="0.9" /><text transform="translate(367.70,281.48) scale(1,1.24)" font-size="8.6" text-anchor="end" fill="#222">12</text><line x1="368.2" y1="257.64" x2="370.7" y2="257.64" stroke="#222" stroke-width="0.9" /><text transform="translate(367.70,261.64) scale(1,1.24)" font-size="8.6" text-anchor="end" fill="#222">16</text><rect x="375.9" y="262.2" width="9.900000000000034" height="74.80000000000001" fill="#1c7cc2" /><line x1="380.85" y1="262.2" x2="380.85" y2="260.7" stroke="#222" stroke-width="1.0" /><line x1="378.05" y1="260.7" x2="383.65000000000003" y2="260.7" stroke="#222" stroke-width="1.3" /><rect x="385.8" y="310.2" width="9.800000000000011" height="26.80000000000001" fill="#ee3124" /><line x1="390.70000000000005" y1="310.2" x2="390.70000000000005" y2="305.2" stroke="#222" stroke-width="1.0" /><line x1="387.90000000000003" y1="305.2" x2="393.50000000000006" y2="305.2" stroke="#222" stroke-width="1.3" /><text x="372.9" y="258.3" font-size="10" text-anchor="start" font-weight="bold" font-style="italic" fill="#111" >Myl7</text><text transform="translate(358.68,297.00) rotate(-90) scale(0.933,1)" font-size="9.6" text-anchor="middle" font-style="italic" fill="#222">Myl7/Gapdh<tspan font-style="normal">x10</tspan><tspan font-style="normal" font-size="6.2" dy="-3.8">4</tspan></text><line x1="426.5" y1="257" x2="426.5" y2="335.5" stroke="#222" stroke-width="1.0" /><line x1="426.0" y1="335.5" x2="455.7" y2="335.5" stroke="#222" stroke-width="1.2" /><line x1="424.2" y1="335.8" x2="426.7" y2="335.8" stroke="#222" stroke-width="0.9" /><text transform="translate(423.70,339.80) scale(1,1.24)" font-size="8.6" text-anchor="end" fill="#222">0</text><line x1="424.2" y1="316.6" x2="426.7" y2="316.6" stroke="#222" stroke-width="0.9" /><text transform="translate(423.70,320.60) scale(1,1.24)" font-size="8.6" text-anchor="end" fill="#222">4</text><line x1="424.2" y1="297.40000000000003" x2="426.7" y2="297.40000000000003" stroke="#222" stroke-width="0.9" /><text transform="translate(423.70,301.40) scale(1,1.24)" font-size="8.6" text-anchor="end" fill="#222">8</text><line x1="424.2" y1="278.20000000000005" x2="426.7" y2="278.20000000000005" stroke="#222" stroke-width="0.9" /><text transform="translate(423.70,282.20) scale(1,1.24)" font-size="8.6" text-anchor="end" fill="#222">12</text><line x1="424.2" y1="259.0" x2="426.7" y2="259.0" stroke="#222" stroke-width="0.9" /><text transform="translate(423.70,263.00) scale(1,1.24)" font-size="8.6" text-anchor="end" fill="#222">16</text><rect x="431.9" y="332.7" width="9.900000000000034" height="3.1000000000000227" fill="#1c7cc2" /><line x1="436.85" y1="332.7" x2="436.85" y2="331" stroke="#222" stroke-width="1.0" /><line x1="434.05" y1="331" x2="439.65000000000003" y2="331" stroke="#222" stroke-width="1.3" /><rect x="441.8" y="270.4" width="9.800000000000011" height="65.40000000000003" fill="#ee3124" /><line x1="446.70000000000005" y1="270.4" x2="446.70000000000005" y2="268.9" stroke="#222" stroke-width="1.0" /><line x1="443.90000000000003" y1="268.9" x2="449.50000000000006" y2="268.9" stroke="#222" stroke-width="1.3" /><text x="428" y="257.7" font-size="10" text-anchor="start" font-weight="bold" font-style="italic" fill="#111" >&#946;-major</text><text transform="translate(411.58,296.03) rotate(-90) scale(0.974,1)" font-size="9.6" text-anchor="middle" font-style="italic" fill="#222">&#946;-major/Gapdh<tspan font-style="normal">x10</tspan><tspan font-style="normal" font-size="6.2" dy="-3.8">4</tspan></text><line x1="483.5" y1="256" x2="483.5" y2="335.5" stroke="#222" stroke-width="1.0" /><line x1="483.0" y1="335.5" x2="513" y2="335.5" stroke="#222" stroke-width="1.2" /><line x1="481.4" y1="335.0" x2="483.9" y2="335.0" stroke="#222" stroke-width="0.9" /><text transform="translate(481.90,339.00) scale(1,1.24)" font-size="8.6" text-anchor="end" fill="#222">0</text><line x1="481.4" y1="315.65" x2="483.9" y2="315.65" stroke="#222" stroke-width="0.9" /><text transform="translate(481.90,319.65) scale(1,1.24)" font-size="8.6" text-anchor="end" fill="#222">5</text><line x1="481.4" y1="296.3" x2="483.9" y2="296.3" stroke="#222" stroke-width="0.9" /><text transform="translate(481.90,300.30) scale(1,1.24)" font-size="8.6" text-anchor="end" fill="#222">10</text><line x1="481.4" y1="276.95" x2="483.9" y2="276.95" stroke="#222" stroke-width="0.9" /><text transform="translate(481.90,280.95) scale(1,1.24)" font-size="8.6" text-anchor="end" fill="#222">15</text><line x1="481.4" y1="257.6" x2="483.9" y2="257.6" stroke="#222" stroke-width="0.9" /><text transform="translate(481.90,261.60) scale(1,1.24)" font-size="8.6" text-anchor="end" fill="#222">20</text><rect x="489.3" y="328.2" width="9.699999999999989" height="6.800000000000011" fill="#1c7cc2" /><line x1="494.15" y1="328.2" x2="494.15" y2="325.7" stroke="#222" stroke-width="1.0" /><line x1="491.34999999999997" y1="325.7" x2="496.95" y2="325.7" stroke="#222" stroke-width="1.3" /><rect x="499" y="260.7" width="9.5" height="74.30000000000001" fill="#ee3124" /><line x1="503.75" y1="260.7" x2="503.75" y2="259" stroke="#222" stroke-width="1.0" /><line x1="500.95" y1="259" x2="506.55" y2="259" stroke="#222" stroke-width="1.3" /><text x="486.5" y="256.7" font-size="10" text-anchor="start" font-weight="bold" font-style="italic" fill="#111" >&#946;-H1</text><text transform="translate(472.38,295.91) rotate(-90) scale(1.028,1)" font-size="9.6" text-anchor="middle" font-style="italic" fill="#222">&#946;-H1/Gapdh<tspan font-style="normal">x10</tspan><tspan font-style="normal" font-size="6.2" dy="-3.8">4</tspan></text></svg></body></html>
